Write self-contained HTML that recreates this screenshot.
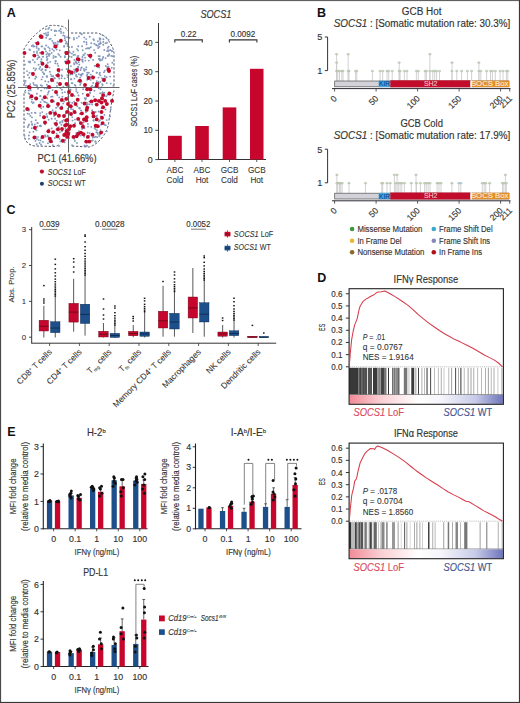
<!DOCTYPE html>
<html><head><meta charset="utf-8"><style>
html,body{margin:0;padding:0;background:#fff;}
svg{display:block;font-family:"Liberation Sans", sans-serif;}
</style></head><body>
<svg width="520" height="703" viewBox="0 0 520 703">
<defs><linearGradient id="grad" x1="0" x2="1" y1="0" y2="0">
<stop offset="0" stop-color="#f28a96"/><stop offset="0.2" stop-color="#f9cdd2"/><stop offset="0.45" stop-color="#ffffff"/><stop offset="0.6" stop-color="#f5f5fb"/><stop offset="0.82" stop-color="#c8cbe8"/><stop offset="1" stop-color="#6e76bb"/></linearGradient></defs>
<rect x="0" y="0" width="520" height="703" fill="#fff"/>
<text x="6.8" y="16.7" font-size="12.5" fill="#111" style="font-weight:bold;">A</text>
<path d="M24 86 L24 49 Q33 34 47 26 Q52 25 56 25.5 L61 26 Q66 27 68 31 M71 33 L97 33 Q106 35 110 43 Q113.5 48 114 53 L114 86 M26 90 Q24 91 24 94 L24 134 Q25 145 35 146 L55 146.5 Q58 146 60 143.5 M72 146 L89 147 Q97 145 104 135 Q108.5 128 109 120 L112 100 Q113.5 94 114 90" fill="none" stroke="#4c5468" stroke-width="1" stroke-dasharray="2.3,1.7"/>
<circle cx="53.5" cy="42.7" r="0.95" fill="#8696c0"/>
<circle cx="30.6" cy="90.4" r="0.95" fill="#7fa0b4"/>
<circle cx="63.5" cy="32.7" r="0.95" fill="#7fa0b4"/>
<circle cx="44.3" cy="101.8" r="0.95" fill="#8696c0"/>
<circle cx="102.1" cy="59.9" r="0.95" fill="#7fa0b4"/>
<circle cx="34.7" cy="62.3" r="0.95" fill="#8696c0"/>
<circle cx="40.4" cy="96.1" r="0.95" fill="#8696c0"/>
<circle cx="29.4" cy="49.5" r="0.95" fill="#8696c0"/>
<circle cx="52.6" cy="96.6" r="0.95" fill="#7fa0b4"/>
<circle cx="76.3" cy="89.1" r="0.95" fill="#8696c0"/>
<circle cx="84.8" cy="118.8" r="0.95" fill="#8696c0"/>
<circle cx="52.6" cy="110.2" r="0.95" fill="#8696c0"/>
<circle cx="65.5" cy="128.2" r="0.95" fill="#8696c0"/>
<circle cx="87.8" cy="104.2" r="0.95" fill="#8696c0"/>
<circle cx="49.9" cy="71.8" r="0.95" fill="#8696c0"/>
<circle cx="93.9" cy="40.0" r="0.95" fill="#7fa0b4"/>
<circle cx="64.9" cy="92.1" r="0.95" fill="#8696c0"/>
<circle cx="102.6" cy="58.5" r="0.95" fill="#8696c0"/>
<circle cx="56.6" cy="133.6" r="0.95" fill="#7fa0b4"/>
<circle cx="40.0" cy="52.8" r="0.95" fill="#7fa0b4"/>
<circle cx="68.1" cy="97.1" r="0.95" fill="#7fa0b4"/>
<circle cx="62.1" cy="69.8" r="0.95" fill="#8696c0"/>
<circle cx="110.7" cy="109.6" r="0.95" fill="#8696c0"/>
<circle cx="28.9" cy="135.5" r="0.95" fill="#8696c0"/>
<circle cx="96.6" cy="72.7" r="0.95" fill="#8696c0"/>
<circle cx="30.1" cy="49.9" r="0.95" fill="#7fa0b4"/>
<circle cx="54.9" cy="30.5" r="0.95" fill="#7fa0b4"/>
<circle cx="47.0" cy="67.1" r="0.95" fill="#8696c0"/>
<circle cx="35.2" cy="129.3" r="0.95" fill="#8696c0"/>
<circle cx="55.2" cy="56.8" r="0.95" fill="#8696c0"/>
<circle cx="72.1" cy="145.3" r="0.95" fill="#7fa0b4"/>
<circle cx="57.4" cy="44.7" r="0.95" fill="#8696c0"/>
<circle cx="72.5" cy="120.6" r="0.95" fill="#7fa0b4"/>
<circle cx="101.6" cy="124.0" r="0.95" fill="#8696c0"/>
<circle cx="44.6" cy="88.2" r="0.95" fill="#7fa0b4"/>
<circle cx="87.0" cy="142.6" r="0.95" fill="#8696c0"/>
<circle cx="44.6" cy="48.4" r="0.95" fill="#7fa0b4"/>
<circle cx="80.8" cy="135.6" r="0.95" fill="#8696c0"/>
<circle cx="84.1" cy="136.8" r="0.95" fill="#8696c0"/>
<circle cx="67.5" cy="46.1" r="0.95" fill="#8696c0"/>
<circle cx="54.3" cy="123.3" r="0.95" fill="#8696c0"/>
<circle cx="60.5" cy="141.4" r="0.95" fill="#7fa0b4"/>
<circle cx="35.6" cy="42.7" r="0.95" fill="#8696c0"/>
<circle cx="37.3" cy="126.5" r="0.95" fill="#8696c0"/>
<circle cx="83.1" cy="89.3" r="0.95" fill="#8696c0"/>
<circle cx="46.9" cy="60.3" r="0.95" fill="#7fa0b4"/>
<circle cx="77.4" cy="56.2" r="0.95" fill="#8696c0"/>
<circle cx="35.9" cy="136.8" r="0.95" fill="#8696c0"/>
<circle cx="77.1" cy="136.1" r="0.95" fill="#8696c0"/>
<circle cx="69.7" cy="89.9" r="0.95" fill="#7fa0b4"/>
<circle cx="64.1" cy="46.7" r="0.95" fill="#7fa0b4"/>
<circle cx="96.7" cy="45.4" r="0.95" fill="#8696c0"/>
<circle cx="90.0" cy="93.0" r="0.95" fill="#8696c0"/>
<circle cx="75.0" cy="54.8" r="0.95" fill="#7fa0b4"/>
<circle cx="94.3" cy="87.0" r="0.95" fill="#8696c0"/>
<circle cx="93.2" cy="137.1" r="0.95" fill="#8696c0"/>
<circle cx="70.0" cy="87.5" r="0.95" fill="#8696c0"/>
<circle cx="72.5" cy="83.3" r="0.95" fill="#8696c0"/>
<circle cx="87.6" cy="132.7" r="0.95" fill="#7fa0b4"/>
<circle cx="74.9" cy="141.0" r="0.95" fill="#7fa0b4"/>
<circle cx="35.1" cy="78.8" r="0.95" fill="#7fa0b4"/>
<circle cx="45.9" cy="33.1" r="0.95" fill="#8696c0"/>
<circle cx="105.6" cy="43.2" r="0.95" fill="#8696c0"/>
<circle cx="84.1" cy="41.7" r="0.95" fill="#8696c0"/>
<circle cx="112.0" cy="51.2" r="0.95" fill="#8696c0"/>
<circle cx="99.8" cy="44.0" r="0.95" fill="#8696c0"/>
<circle cx="70.9" cy="66.1" r="0.95" fill="#7fa0b4"/>
<circle cx="74.4" cy="78.6" r="0.95" fill="#7fa0b4"/>
<circle cx="54.2" cy="101.4" r="0.95" fill="#7fa0b4"/>
<circle cx="48.2" cy="28.9" r="0.95" fill="#7fa0b4"/>
<circle cx="35.8" cy="76.4" r="0.95" fill="#8696c0"/>
<circle cx="98.5" cy="56.1" r="0.95" fill="#7fa0b4"/>
<circle cx="107.6" cy="94.8" r="0.95" fill="#7fa0b4"/>
<circle cx="29.2" cy="109.3" r="0.95" fill="#7fa0b4"/>
<circle cx="102.5" cy="80.3" r="0.95" fill="#8696c0"/>
<circle cx="74.3" cy="138.9" r="0.95" fill="#7fa0b4"/>
<circle cx="71.9" cy="53.6" r="0.95" fill="#7fa0b4"/>
<circle cx="42.4" cy="62.7" r="0.95" fill="#8696c0"/>
<circle cx="93.1" cy="60.0" r="0.95" fill="#8696c0"/>
<circle cx="40.2" cy="67.0" r="0.95" fill="#7fa0b4"/>
<circle cx="98.5" cy="77.6" r="0.95" fill="#8696c0"/>
<circle cx="99.9" cy="72.7" r="0.95" fill="#8696c0"/>
<circle cx="86.6" cy="145.8" r="0.95" fill="#8696c0"/>
<circle cx="81.9" cy="74.2" r="0.95" fill="#8696c0"/>
<circle cx="30.4" cy="115.9" r="0.95" fill="#7fa0b4"/>
<circle cx="31.7" cy="128.3" r="0.95" fill="#8696c0"/>
<circle cx="49.7" cy="54.0" r="0.95" fill="#7fa0b4"/>
<circle cx="65.8" cy="43.5" r="0.95" fill="#8696c0"/>
<circle cx="48.0" cy="143.3" r="0.95" fill="#7fa0b4"/>
<circle cx="67.2" cy="86.3" r="0.95" fill="#7fa0b4"/>
<circle cx="48.0" cy="35.1" r="0.95" fill="#8696c0"/>
<circle cx="51.7" cy="52.9" r="0.95" fill="#8696c0"/>
<circle cx="72.2" cy="117.1" r="0.95" fill="#8696c0"/>
<circle cx="104.0" cy="72.3" r="0.95" fill="#8696c0"/>
<circle cx="100.0" cy="134.6" r="0.95" fill="#8696c0"/>
<circle cx="97.9" cy="41.3" r="0.95" fill="#8696c0"/>
<circle cx="69.9" cy="127.5" r="0.95" fill="#8696c0"/>
<circle cx="77.1" cy="134.7" r="0.95" fill="#8696c0"/>
<circle cx="36.1" cy="68.7" r="0.95" fill="#7fa0b4"/>
<circle cx="100.1" cy="93.3" r="0.95" fill="#8696c0"/>
<circle cx="85.9" cy="84.7" r="0.95" fill="#7fa0b4"/>
<circle cx="96.6" cy="116.8" r="0.95" fill="#8696c0"/>
<circle cx="91.0" cy="55.3" r="0.95" fill="#7fa0b4"/>
<circle cx="67.6" cy="108.8" r="0.95" fill="#8696c0"/>
<circle cx="47.1" cy="116.2" r="0.95" fill="#8696c0"/>
<circle cx="48.5" cy="107.3" r="0.95" fill="#8696c0"/>
<circle cx="50.5" cy="88.1" r="0.95" fill="#8696c0"/>
<circle cx="25.6" cy="80.9" r="0.95" fill="#8696c0"/>
<circle cx="64.9" cy="57.3" r="0.95" fill="#7fa0b4"/>
<circle cx="110.0" cy="50.1" r="0.95" fill="#7fa0b4"/>
<circle cx="98.6" cy="87.1" r="0.95" fill="#8696c0"/>
<circle cx="45.1" cy="135.3" r="0.95" fill="#7fa0b4"/>
<circle cx="65.0" cy="61.4" r="0.95" fill="#7fa0b4"/>
<circle cx="55.3" cy="63.2" r="0.95" fill="#8696c0"/>
<circle cx="100.4" cy="38.9" r="0.95" fill="#8696c0"/>
<circle cx="88.9" cy="135.8" r="0.95" fill="#8696c0"/>
<circle cx="77.6" cy="68.7" r="0.95" fill="#8696c0"/>
<circle cx="100.0" cy="59.4" r="0.95" fill="#8696c0"/>
<circle cx="46.7" cy="57.0" r="0.95" fill="#8696c0"/>
<circle cx="41.3" cy="70.3" r="0.95" fill="#8696c0"/>
<circle cx="104.5" cy="124.7" r="0.95" fill="#8696c0"/>
<circle cx="90.6" cy="79.9" r="0.95" fill="#8696c0"/>
<circle cx="82.6" cy="59.5" r="0.95" fill="#7fa0b4"/>
<circle cx="55.3" cy="60.9" r="0.95" fill="#8696c0"/>
<circle cx="112.8" cy="56.3" r="0.95" fill="#8696c0"/>
<circle cx="74.7" cy="72.9" r="0.95" fill="#7fa0b4"/>
<circle cx="38.7" cy="49.8" r="0.95" fill="#8696c0"/>
<circle cx="69.2" cy="51.3" r="0.95" fill="#8696c0"/>
<circle cx="36.7" cy="47.9" r="0.95" fill="#7fa0b4"/>
<circle cx="55.1" cy="35.3" r="0.95" fill="#7fa0b4"/>
<circle cx="47.5" cy="94.6" r="0.95" fill="#8696c0"/>
<circle cx="61.6" cy="75.3" r="0.95" fill="#8696c0"/>
<circle cx="58.3" cy="65.9" r="0.95" fill="#7fa0b4"/>
<circle cx="69.8" cy="102.1" r="0.95" fill="#7fa0b4"/>
<circle cx="48.7" cy="54.8" r="0.95" fill="#8696c0"/>
<circle cx="64.6" cy="142.3" r="0.95" fill="#7fa0b4"/>
<circle cx="59.6" cy="138.9" r="0.95" fill="#8696c0"/>
<circle cx="38.0" cy="88.8" r="0.95" fill="#8696c0"/>
<circle cx="89.7" cy="104.3" r="0.95" fill="#8696c0"/>
<circle cx="95.2" cy="52.8" r="0.95" fill="#8696c0"/>
<circle cx="82.7" cy="61.7" r="0.95" fill="#7fa0b4"/>
<circle cx="46.9" cy="102.9" r="0.95" fill="#7fa0b4"/>
<circle cx="30.4" cy="89.0" r="0.95" fill="#8696c0"/>
<circle cx="51.4" cy="81.1" r="0.95" fill="#8696c0"/>
<circle cx="82.7" cy="133.6" r="0.95" fill="#7fa0b4"/>
<circle cx="26.0" cy="85.8" r="0.95" fill="#8696c0"/>
<circle cx="47.4" cy="106.8" r="0.95" fill="#7fa0b4"/>
<circle cx="86.1" cy="48.6" r="0.95" fill="#8696c0"/>
<circle cx="91.3" cy="86.6" r="0.95" fill="#7fa0b4"/>
<circle cx="112.3" cy="62.7" r="0.95" fill="#7fa0b4"/>
<circle cx="44.2" cy="118.3" r="0.95" fill="#8696c0"/>
<circle cx="69.1" cy="47.2" r="0.95" fill="#7fa0b4"/>
<circle cx="61.9" cy="106.5" r="0.95" fill="#7fa0b4"/>
<circle cx="59.8" cy="50.4" r="0.95" fill="#8696c0"/>
<circle cx="29.5" cy="72.8" r="0.95" fill="#8696c0"/>
<circle cx="104.4" cy="114.9" r="0.95" fill="#8696c0"/>
<circle cx="54.0" cy="47.0" r="0.95" fill="#8696c0"/>
<circle cx="84.5" cy="70.9" r="0.95" fill="#8696c0"/>
<circle cx="54.2" cy="45.0" r="0.95" fill="#7fa0b4"/>
<circle cx="49.5" cy="67.6" r="0.95" fill="#8696c0"/>
<circle cx="56.5" cy="125.9" r="0.95" fill="#8696c0"/>
<circle cx="107.7" cy="47.9" r="0.95" fill="#8696c0"/>
<circle cx="61.4" cy="124.7" r="0.95" fill="#7fa0b4"/>
<circle cx="107.7" cy="55.9" r="0.95" fill="#8696c0"/>
<circle cx="105.8" cy="66.0" r="0.95" fill="#7fa0b4"/>
<circle cx="111.1" cy="100.5" r="0.95" fill="#8696c0"/>
<circle cx="92.8" cy="137.6" r="0.95" fill="#8696c0"/>
<circle cx="59.2" cy="55.1" r="0.95" fill="#8696c0"/>
<circle cx="97.0" cy="115.6" r="0.95" fill="#8696c0"/>
<circle cx="79.3" cy="64.6" r="0.95" fill="#8696c0"/>
<circle cx="74.3" cy="64.4" r="0.95" fill="#8696c0"/>
<circle cx="48.1" cy="34.4" r="0.95" fill="#7fa0b4"/>
<circle cx="69.4" cy="112.0" r="0.95" fill="#7fa0b4"/>
<circle cx="61.9" cy="100.9" r="0.95" fill="#8696c0"/>
<circle cx="100.5" cy="60.4" r="0.95" fill="#8696c0"/>
<circle cx="46.5" cy="54.4" r="0.95" fill="#7fa0b4"/>
<circle cx="104.5" cy="95.7" r="0.95" fill="#8696c0"/>
<circle cx="45.1" cy="124.2" r="0.95" fill="#8696c0"/>
<circle cx="33.3" cy="82.9" r="0.95" fill="#8696c0"/>
<circle cx="50.7" cy="38.8" r="0.95" fill="#7fa0b4"/>
<circle cx="108.6" cy="70.2" r="0.95" fill="#8696c0"/>
<circle cx="64.9" cy="56.2" r="0.95" fill="#8696c0"/>
<circle cx="57.6" cy="41.5" r="0.95" fill="#7fa0b4"/>
<circle cx="47.2" cy="98.3" r="0.95" fill="#7fa0b4"/>
<circle cx="25.0" cy="64.6" r="0.95" fill="#7fa0b4"/>
<circle cx="52.4" cy="49.2" r="0.95" fill="#8696c0"/>
<circle cx="33.2" cy="73.0" r="0.95" fill="#8696c0"/>
<circle cx="87.3" cy="74.8" r="0.95" fill="#7fa0b4"/>
<circle cx="52.0" cy="142.2" r="0.95" fill="#8696c0"/>
<circle cx="61.9" cy="131.2" r="0.95" fill="#8696c0"/>
<circle cx="24.5" cy="135.8" r="0.95" fill="#8696c0"/>
<circle cx="104.3" cy="81.2" r="0.95" fill="#7fa0b4"/>
<circle cx="25.3" cy="92.4" r="0.95" fill="#7fa0b4"/>
<circle cx="80.6" cy="70.0" r="0.95" fill="#8696c0"/>
<circle cx="37.3" cy="59.1" r="0.95" fill="#8696c0"/>
<circle cx="68.6" cy="123.8" r="0.95" fill="#7fa0b4"/>
<circle cx="35.5" cy="140.9" r="0.95" fill="#8696c0"/>
<circle cx="28.9" cy="138.8" r="0.95" fill="#8696c0"/>
<circle cx="99.0" cy="43.9" r="0.95" fill="#8696c0"/>
<circle cx="44.2" cy="74.2" r="0.95" fill="#8696c0"/>
<circle cx="99.5" cy="46.7" r="0.95" fill="#7fa0b4"/>
<circle cx="60.4" cy="88.2" r="0.95" fill="#7fa0b4"/>
<circle cx="46.5" cy="113.9" r="0.95" fill="#7fa0b4"/>
<circle cx="100.3" cy="38.6" r="0.95" fill="#8696c0"/>
<circle cx="74.1" cy="101.8" r="0.95" fill="#8696c0"/>
<circle cx="77.0" cy="76.8" r="0.95" fill="#8696c0"/>
<circle cx="64.7" cy="78.4" r="0.95" fill="#7fa0b4"/>
<circle cx="80.3" cy="84.7" r="0.95" fill="#7fa0b4"/>
<circle cx="93.5" cy="120.7" r="0.95" fill="#7fa0b4"/>
<circle cx="67.1" cy="37.3" r="0.95" fill="#7fa0b4"/>
<circle cx="63.2" cy="35.4" r="0.95" fill="#8696c0"/>
<circle cx="81.9" cy="34.2" r="0.95" fill="#8696c0"/>
<circle cx="69.9" cy="70.9" r="0.95" fill="#8696c0"/>
<circle cx="36.4" cy="130.3" r="0.95" fill="#8696c0"/>
<circle cx="98.2" cy="48.0" r="0.95" fill="#8696c0"/>
<circle cx="105.6" cy="58.1" r="0.95" fill="#8696c0"/>
<circle cx="37.1" cy="86.3" r="0.95" fill="#8696c0"/>
<circle cx="43.0" cy="56.6" r="0.95" fill="#8696c0"/>
<circle cx="38.7" cy="140.1" r="0.95" fill="#8696c0"/>
<circle cx="72.3" cy="102.9" r="0.95" fill="#8696c0"/>
<circle cx="74.5" cy="95.9" r="0.95" fill="#7fa0b4"/>
<circle cx="59.9" cy="122.9" r="0.95" fill="#8696c0"/>
<circle cx="76.5" cy="68.7" r="0.95" fill="#8696c0"/>
<circle cx="64.2" cy="45.9" r="0.95" fill="#8696c0"/>
<circle cx="28.4" cy="125.7" r="0.95" fill="#8696c0"/>
<circle cx="77.3" cy="106.3" r="0.95" fill="#7fa0b4"/>
<circle cx="80.1" cy="77.6" r="0.95" fill="#8696c0"/>
<circle cx="33.7" cy="68.3" r="0.95" fill="#7fa0b4"/>
<circle cx="80.8" cy="82.9" r="0.95" fill="#7fa0b4"/>
<circle cx="109.2" cy="54.2" r="0.95" fill="#7fa0b4"/>
<circle cx="32.7" cy="103.1" r="0.95" fill="#8696c0"/>
<circle cx="60.6" cy="56.8" r="0.95" fill="#7fa0b4"/>
<circle cx="82.7" cy="93.7" r="0.95" fill="#8696c0"/>
<circle cx="64.4" cy="140.2" r="0.95" fill="#7fa0b4"/>
<circle cx="72.4" cy="74.3" r="0.95" fill="#7fa0b4"/>
<circle cx="42.2" cy="99.4" r="0.95" fill="#8696c0"/>
<circle cx="98.0" cy="45.7" r="0.95" fill="#8696c0"/>
<circle cx="51.3" cy="30.0" r="0.95" fill="#8696c0"/>
<circle cx="100.8" cy="116.4" r="0.95" fill="#8696c0"/>
<circle cx="65.2" cy="52.0" r="0.95" fill="#7fa0b4"/>
<circle cx="92.2" cy="110.2" r="0.95" fill="#8696c0"/>
<circle cx="48.2" cy="92.7" r="0.95" fill="#8696c0"/>
<circle cx="71.6" cy="56.9" r="0.95" fill="#8696c0"/>
<circle cx="111.8" cy="50.9" r="0.95" fill="#7fa0b4"/>
<circle cx="47.7" cy="53.3" r="0.95" fill="#8696c0"/>
<circle cx="110.0" cy="116.5" r="0.95" fill="#8696c0"/>
<circle cx="45.8" cy="136.5" r="0.95" fill="#8696c0"/>
<circle cx="84.5" cy="145.4" r="0.95" fill="#8696c0"/>
<circle cx="102.0" cy="78.2" r="0.95" fill="#8696c0"/>
<circle cx="75.9" cy="62.2" r="0.95" fill="#7fa0b4"/>
<circle cx="80.7" cy="33.6" r="0.95" fill="#7fa0b4"/>
<circle cx="108.5" cy="66.8" r="0.95" fill="#7fa0b4"/>
<circle cx="87.0" cy="102.6" r="0.95" fill="#8696c0"/>
<circle cx="30.0" cy="97.2" r="0.95" fill="#8696c0"/>
<circle cx="42.7" cy="37.9" r="0.95" fill="#7fa0b4"/>
<circle cx="101.1" cy="124.7" r="0.95" fill="#8696c0"/>
<circle cx="81.5" cy="59.6" r="0.95" fill="#7fa0b4"/>
<circle cx="53.0" cy="76.5" r="0.95" fill="#7fa0b4"/>
<circle cx="47.4" cy="59.0" r="0.95" fill="#8696c0"/>
<circle cx="57.5" cy="63.8" r="0.95" fill="#8696c0"/>
<circle cx="69.8" cy="129.6" r="0.95" fill="#7fa0b4"/>
<circle cx="61.6" cy="78.1" r="0.95" fill="#8696c0"/>
<circle cx="55.6" cy="111.4" r="0.95" fill="#7fa0b4"/>
<circle cx="102.5" cy="35.3" r="0.95" fill="#7fa0b4"/>
<circle cx="68.7" cy="84.9" r="0.95" fill="#8696c0"/>
<circle cx="40.8" cy="85.3" r="0.95" fill="#8696c0"/>
<circle cx="99.7" cy="56.3" r="0.95" fill="#8696c0"/>
<circle cx="49.8" cy="50.6" r="0.95" fill="#8696c0"/>
<circle cx="69.3" cy="37.6" r="0.95" fill="#8696c0"/>
<circle cx="31.4" cy="121.7" r="0.95" fill="#8696c0"/>
<circle cx="81.1" cy="68.1" r="0.95" fill="#8696c0"/>
<circle cx="42.8" cy="56.6" r="0.95" fill="#8696c0"/>
<circle cx="69.6" cy="71.0" r="0.95" fill="#8696c0"/>
<circle cx="45.3" cy="81.2" r="0.95" fill="#8696c0"/>
<circle cx="92.7" cy="117.4" r="0.95" fill="#8696c0"/>
<circle cx="53.7" cy="43.3" r="0.95" fill="#8696c0"/>
<circle cx="63.9" cy="119.9" r="0.95" fill="#7fa0b4"/>
<circle cx="41.4" cy="61.4" r="0.95" fill="#8696c0"/>
<circle cx="100.8" cy="43.2" r="0.95" fill="#7fa0b4"/>
<circle cx="46.5" cy="64.5" r="0.95" fill="#8696c0"/>
<circle cx="38.6" cy="64.7" r="0.95" fill="#7fa0b4"/>
<circle cx="59.0" cy="146.0" r="0.95" fill="#8696c0"/>
<circle cx="42.8" cy="72.2" r="0.95" fill="#7fa0b4"/>
<circle cx="60.3" cy="122.1" r="0.95" fill="#8696c0"/>
<circle cx="81.5" cy="81.4" r="0.95" fill="#7fa0b4"/>
<circle cx="78.9" cy="74.2" r="0.95" fill="#8696c0"/>
<circle cx="106.6" cy="77.3" r="0.95" fill="#8696c0"/>
<circle cx="92.2" cy="76.2" r="0.95" fill="#7fa0b4"/>
<circle cx="89.7" cy="133.1" r="0.95" fill="#8696c0"/>
<circle cx="101.6" cy="108.3" r="0.95" fill="#8696c0"/>
<circle cx="62.2" cy="121.0" r="0.95" fill="#8696c0"/>
<circle cx="46.8" cy="76.5" r="0.95" fill="#8696c0"/>
<circle cx="80.6" cy="74.8" r="0.95" fill="#8696c0"/>
<circle cx="108.6" cy="46.7" r="0.95" fill="#8696c0"/>
<circle cx="59.4" cy="84.7" r="0.95" fill="#8696c0"/>
<circle cx="76.3" cy="91.1" r="0.95" fill="#8696c0"/>
<circle cx="82.2" cy="126.8" r="0.95" fill="#8696c0"/>
<circle cx="110.3" cy="50.1" r="0.95" fill="#8696c0"/>
<circle cx="93.4" cy="39.2" r="0.95" fill="#8696c0"/>
<circle cx="56.3" cy="31.0" r="0.95" fill="#7fa0b4"/>
<circle cx="62.1" cy="76.1" r="0.95" fill="#8696c0"/>
<circle cx="56.0" cy="56.9" r="0.95" fill="#7fa0b4"/>
<circle cx="91.5" cy="140.6" r="0.95" fill="#7fa0b4"/>
<circle cx="96.9" cy="72.6" r="0.95" fill="#7fa0b4"/>
<circle cx="35.8" cy="120.3" r="0.95" fill="#8696c0"/>
<circle cx="111.7" cy="67.8" r="0.95" fill="#8696c0"/>
<circle cx="98.3" cy="82.0" r="0.95" fill="#7fa0b4"/>
<circle cx="73.9" cy="39.5" r="0.95" fill="#8696c0"/>
<circle cx="56.3" cy="129.5" r="0.95" fill="#8696c0"/>
<circle cx="47.1" cy="76.8" r="0.95" fill="#7fa0b4"/>
<circle cx="49.6" cy="54.4" r="0.95" fill="#8696c0"/>
<circle cx="67.6" cy="77.1" r="0.95" fill="#8696c0"/>
<circle cx="84.0" cy="68.9" r="0.95" fill="#8696c0"/>
<circle cx="99.3" cy="136.3" r="0.95" fill="#7fa0b4"/>
<circle cx="83.7" cy="55.0" r="0.95" fill="#7fa0b4"/>
<circle cx="37.0" cy="53.0" r="0.95" fill="#8696c0"/>
<circle cx="55.5" cy="42.9" r="0.95" fill="#8696c0"/>
<circle cx="96.0" cy="44.8" r="0.95" fill="#8696c0"/>
<circle cx="79.4" cy="120.9" r="0.95" fill="#8696c0"/>
<circle cx="87.0" cy="89.8" r="0.95" fill="#8696c0"/>
<circle cx="104.3" cy="92.8" r="0.95" fill="#7fa0b4"/>
<circle cx="36.7" cy="85.1" r="0.95" fill="#7fa0b4"/>
<circle cx="66.5" cy="41.9" r="0.95" fill="#8696c0"/>
<circle cx="69.3" cy="90.9" r="0.95" fill="#7fa0b4"/>
<circle cx="100.5" cy="82.0" r="0.95" fill="#8696c0"/>
<circle cx="84.5" cy="128.2" r="0.95" fill="#8696c0"/>
<circle cx="79.5" cy="108.6" r="0.95" fill="#8696c0"/>
<circle cx="89.4" cy="101.5" r="0.95" fill="#8696c0"/>
<circle cx="57.3" cy="82.8" r="0.95" fill="#8696c0"/>
<circle cx="94.1" cy="50.1" r="0.95" fill="#8696c0"/>
<circle cx="62.4" cy="92.7" r="0.95" fill="#7fa0b4"/>
<circle cx="99.3" cy="74.1" r="0.95" fill="#8696c0"/>
<circle cx="48.7" cy="86.8" r="0.95" fill="#8696c0"/>
<circle cx="83.6" cy="122.2" r="0.95" fill="#8696c0"/>
<circle cx="51.2" cy="96.7" r="0.95" fill="#8696c0"/>
<circle cx="27.6" cy="113.6" r="0.95" fill="#7fa0b4"/>
<circle cx="41.3" cy="138.3" r="0.95" fill="#8696c0"/>
<circle cx="95.8" cy="136.8" r="0.95" fill="#8696c0"/>
<circle cx="81.0" cy="110.4" r="0.95" fill="#8696c0"/>
<circle cx="43.3" cy="106.7" r="0.95" fill="#8696c0"/>
<circle cx="33.2" cy="46.5" r="0.95" fill="#7fa0b4"/>
<circle cx="94.5" cy="137.3" r="0.95" fill="#8696c0"/>
<circle cx="98.9" cy="121.5" r="0.95" fill="#7fa0b4"/>
<circle cx="51.5" cy="76.3" r="0.95" fill="#8696c0"/>
<circle cx="63.2" cy="103.6" r="0.95" fill="#7fa0b4"/>
<circle cx="34.8" cy="124.5" r="0.95" fill="#8696c0"/>
<circle cx="59.2" cy="97.4" r="0.95" fill="#8696c0"/>
<circle cx="67.3" cy="75.1" r="0.95" fill="#7fa0b4"/>
<circle cx="82.7" cy="50.3" r="0.95" fill="#7fa0b4"/>
<circle cx="86.2" cy="39.1" r="0.95" fill="#8696c0"/>
<circle cx="90.8" cy="47.2" r="0.95" fill="#7fa0b4"/>
<circle cx="94.4" cy="112.5" r="0.95" fill="#8696c0"/>
<circle cx="31.7" cy="101.9" r="0.95" fill="#8696c0"/>
<circle cx="108.8" cy="55.5" r="0.95" fill="#8696c0"/>
<circle cx="102.3" cy="84.3" r="0.95" fill="#7fa0b4"/>
<circle cx="57.4" cy="95.3" r="0.95" fill="#8696c0"/>
<circle cx="37.2" cy="122.9" r="0.95" fill="#8696c0"/>
<circle cx="81.3" cy="75.8" r="0.95" fill="#8696c0"/>
<circle cx="95.5" cy="141.2" r="0.95" fill="#7fa0b4"/>
<circle cx="88.0" cy="126.6" r="0.95" fill="#8696c0"/>
<circle cx="78.7" cy="62.3" r="0.95" fill="#8696c0"/>
<circle cx="104.8" cy="70.7" r="0.95" fill="#8696c0"/>
<circle cx="78.8" cy="135.1" r="0.95" fill="#7fa0b4"/>
<circle cx="62.4" cy="96.7" r="0.95" fill="#8696c0"/>
<circle cx="27.8" cy="127.3" r="0.95" fill="#8696c0"/>
<circle cx="48.9" cy="129.5" r="0.95" fill="#8696c0"/>
<circle cx="107.2" cy="67.0" r="0.95" fill="#7fa0b4"/>
<circle cx="79.2" cy="108.0" r="0.95" fill="#7fa0b4"/>
<circle cx="47.2" cy="117.1" r="0.95" fill="#8696c0"/>
<circle cx="32.0" cy="124.0" r="0.95" fill="#7fa0b4"/>
<circle cx="76.7" cy="135.2" r="0.95" fill="#8696c0"/>
<circle cx="41.5" cy="46.4" r="0.95" fill="#8696c0"/>
<circle cx="57.0" cy="94.0" r="0.95" fill="#8696c0"/>
<circle cx="33.7" cy="102.5" r="0.95" fill="#7fa0b4"/>
<circle cx="78.3" cy="66.8" r="0.95" fill="#8696c0"/>
<circle cx="68.3" cy="94.3" r="0.95" fill="#8696c0"/>
<circle cx="62.8" cy="141.4" r="0.95" fill="#8696c0"/>
<circle cx="42.3" cy="46.4" r="0.95" fill="#7fa0b4"/>
<circle cx="28.6" cy="93.1" r="0.95" fill="#8696c0"/>
<circle cx="29.8" cy="98.2" r="0.95" fill="#7fa0b4"/>
<circle cx="111.3" cy="55.9" r="0.95" fill="#8696c0"/>
<circle cx="95.6" cy="112.0" r="0.95" fill="#8696c0"/>
<circle cx="92.7" cy="140.5" r="0.95" fill="#7fa0b4"/>
<circle cx="53.5" cy="55.9" r="0.95" fill="#7fa0b4"/>
<circle cx="67.8" cy="44.9" r="0.95" fill="#7fa0b4"/>
<circle cx="89.3" cy="48.2" r="0.95" fill="#7fa0b4"/>
<circle cx="108.4" cy="51.3" r="0.95" fill="#8696c0"/>
<circle cx="64.7" cy="36.0" r="0.95" fill="#8696c0"/>
<circle cx="100.6" cy="101.9" r="0.95" fill="#8696c0"/>
<circle cx="98.9" cy="83.2" r="0.95" fill="#8696c0"/>
<circle cx="37.0" cy="51.5" r="0.95" fill="#7fa0b4"/>
<circle cx="103.2" cy="57.0" r="0.95" fill="#8696c0"/>
<circle cx="38.2" cy="57.6" r="0.95" fill="#8696c0"/>
<circle cx="54.4" cy="44.8" r="0.95" fill="#8696c0"/>
<circle cx="67.4" cy="59.5" r="0.95" fill="#7fa0b4"/>
<circle cx="42.3" cy="69.2" r="0.95" fill="#8696c0"/>
<circle cx="32.9" cy="59.9" r="0.95" fill="#8696c0"/>
<circle cx="29.2" cy="114.1" r="0.95" fill="#8696c0"/>
<circle cx="71.9" cy="47.0" r="0.95" fill="#8696c0"/>
<circle cx="107.0" cy="51.1" r="0.95" fill="#8696c0"/>
<circle cx="36.6" cy="46.3" r="0.95" fill="#8696c0"/>
<circle cx="88.8" cy="48.4" r="0.95" fill="#7fa0b4"/>
<circle cx="32.0" cy="99.5" r="0.95" fill="#7fa0b4"/>
<circle cx="42.7" cy="99.9" r="0.95" fill="#8696c0"/>
<circle cx="77.0" cy="49.1" r="0.95" fill="#7fa0b4"/>
<circle cx="90.7" cy="74.6" r="0.95" fill="#8696c0"/>
<circle cx="29.0" cy="124.5" r="0.95" fill="#8696c0"/>
<circle cx="102.7" cy="85.1" r="0.95" fill="#7fa0b4"/>
<circle cx="106.8" cy="83.1" r="0.95" fill="#8696c0"/>
<circle cx="48.2" cy="47.1" r="0.95" fill="#8696c0"/>
<circle cx="57.4" cy="44.3" r="0.95" fill="#8696c0"/>
<circle cx="71.3" cy="79.3" r="0.95" fill="#8696c0"/>
<circle cx="35.0" cy="112.6" r="0.95" fill="#8696c0"/>
<circle cx="53.2" cy="112.2" r="0.95" fill="#8696c0"/>
<circle cx="29.6" cy="132.2" r="0.95" fill="#8696c0"/>
<circle cx="70.7" cy="89.8" r="0.95" fill="#7fa0b4"/>
<circle cx="33.3" cy="55.1" r="0.95" fill="#8696c0"/>
<circle cx="87.6" cy="48.2" r="0.95" fill="#7fa0b4"/>
<circle cx="78.5" cy="95.5" r="0.95" fill="#8696c0"/>
<circle cx="33.4" cy="131.8" r="0.95" fill="#7fa0b4"/>
<circle cx="35.2" cy="85.2" r="0.95" fill="#8696c0"/>
<circle cx="49.4" cy="39.1" r="0.95" fill="#8696c0"/>
<circle cx="36.5" cy="97.4" r="0.95" fill="#7fa0b4"/>
<circle cx="100.4" cy="89.2" r="0.95" fill="#8696c0"/>
<circle cx="94.7" cy="66.0" r="0.95" fill="#7fa0b4"/>
<circle cx="54.5" cy="78.0" r="0.95" fill="#8696c0"/>
<circle cx="97.2" cy="137.2" r="0.95" fill="#8696c0"/>
<circle cx="28.9" cy="88.2" r="0.95" fill="#8696c0"/>
<circle cx="46.7" cy="76.3" r="0.95" fill="#8696c0"/>
<circle cx="63.4" cy="86.6" r="0.95" fill="#7fa0b4"/>
<circle cx="36.7" cy="144.2" r="0.95" fill="#8696c0"/>
<circle cx="97.6" cy="133.7" r="0.95" fill="#7fa0b4"/>
<circle cx="82.4" cy="57.0" r="0.95" fill="#8696c0"/>
<circle cx="48.9" cy="91.2" r="0.95" fill="#8696c0"/>
<circle cx="46.8" cy="88.5" r="0.95" fill="#8696c0"/>
<circle cx="50.2" cy="61.9" r="0.95" fill="#8696c0"/>
<circle cx="35.0" cy="97.7" r="0.95" fill="#8696c0"/>
<circle cx="48.4" cy="81.8" r="0.95" fill="#8696c0"/>
<circle cx="50.7" cy="74.4" r="0.95" fill="#7fa0b4"/>
<circle cx="46.1" cy="34.9" r="0.95" fill="#8696c0"/>
<circle cx="100.4" cy="99.6" r="0.95" fill="#8696c0"/>
<circle cx="42.3" cy="112.1" r="0.95" fill="#8696c0"/>
<circle cx="79.8" cy="82.2" r="0.95" fill="#8696c0"/>
<circle cx="46.0" cy="51.5" r="0.95" fill="#8696c0"/>
<circle cx="74.7" cy="84.9" r="0.95" fill="#7fa0b4"/>
<circle cx="94.3" cy="43.7" r="0.95" fill="#7fa0b4"/>
<circle cx="103.3" cy="78.6" r="0.95" fill="#7fa0b4"/>
<circle cx="59.3" cy="78.5" r="0.95" fill="#8696c0"/>
<circle cx="33.9" cy="51.9" r="0.95" fill="#8696c0"/>
<circle cx="91.2" cy="43.2" r="0.95" fill="#8696c0"/>
<circle cx="56.1" cy="107.7" r="0.95" fill="#8696c0"/>
<circle cx="98.7" cy="88.2" r="0.95" fill="#8696c0"/>
<circle cx="93.1" cy="82.9" r="0.95" fill="#8696c0"/>
<circle cx="93.7" cy="96.6" r="0.95" fill="#8696c0"/>
<circle cx="76.0" cy="75.8" r="0.95" fill="#8696c0"/>
<circle cx="103.4" cy="99.3" r="0.95" fill="#8696c0"/>
<circle cx="65.7" cy="113.7" r="0.95" fill="#8696c0"/>
<circle cx="74.5" cy="71.7" r="0.95" fill="#8696c0"/>
<circle cx="95.6" cy="129.3" r="0.95" fill="#8696c0"/>
<circle cx="40.8" cy="61.7" r="0.95" fill="#7fa0b4"/>
<circle cx="107.7" cy="64.2" r="0.95" fill="#8696c0"/>
<circle cx="42.6" cy="76.9" r="0.95" fill="#8696c0"/>
<circle cx="75.4" cy="85.7" r="0.95" fill="#8696c0"/>
<circle cx="94.4" cy="90.8" r="0.95" fill="#8696c0"/>
<circle cx="71.1" cy="109.0" r="0.95" fill="#8696c0"/>
<circle cx="78.1" cy="67.5" r="0.95" fill="#8696c0"/>
<circle cx="58.1" cy="73.7" r="0.95" fill="#8696c0"/>
<circle cx="76.2" cy="133.1" r="0.95" fill="#8696c0"/>
<circle cx="64.1" cy="101.5" r="0.95" fill="#8696c0"/>
<circle cx="52.9" cy="145.3" r="0.95" fill="#7fa0b4"/>
<circle cx="105.4" cy="109.5" r="0.95" fill="#8696c0"/>
<circle cx="104.8" cy="76.2" r="0.95" fill="#7fa0b4"/>
<circle cx="50.4" cy="87.4" r="0.95" fill="#7fa0b4"/>
<circle cx="40.6" cy="102.1" r="0.95" fill="#8696c0"/>
<circle cx="27.9" cy="75.0" r="0.95" fill="#8696c0"/>
<circle cx="51.7" cy="128.4" r="0.95" fill="#8696c0"/>
<circle cx="41.9" cy="85.7" r="0.95" fill="#8696c0"/>
<circle cx="48.2" cy="104.2" r="0.95" fill="#8696c0"/>
<circle cx="76.3" cy="75.0" r="0.95" fill="#7fa0b4"/>
<circle cx="33.1" cy="45.1" r="0.95" fill="#8696c0"/>
<circle cx="25.1" cy="119.6" r="0.95" fill="#8696c0"/>
<circle cx="39.4" cy="57.1" r="0.95" fill="#7fa0b4"/>
<circle cx="106.3" cy="96.2" r="0.95" fill="#8696c0"/>
<circle cx="59.1" cy="30.8" r="0.95" fill="#8696c0"/>
<circle cx="77.0" cy="143.0" r="0.95" fill="#7fa0b4"/>
<circle cx="105.8" cy="125.2" r="0.95" fill="#8696c0"/>
<circle cx="52.1" cy="132.5" r="0.95" fill="#8696c0"/>
<circle cx="46.1" cy="45.5" r="0.95" fill="#8696c0"/>
<circle cx="41.0" cy="144.5" r="0.95" fill="#7fa0b4"/>
<circle cx="72.6" cy="71.8" r="0.95" fill="#8696c0"/>
<circle cx="99.2" cy="67.6" r="0.95" fill="#7fa0b4"/>
<circle cx="41.4" cy="59.2" r="0.95" fill="#7fa0b4"/>
<circle cx="100.0" cy="39.8" r="0.95" fill="#8696c0"/>
<circle cx="56.1" cy="113.6" r="0.95" fill="#8696c0"/>
<circle cx="42.9" cy="141.9" r="0.95" fill="#7fa0b4"/>
<circle cx="65.2" cy="40.2" r="0.95" fill="#8696c0"/>
<circle cx="47.7" cy="135.6" r="0.95" fill="#8696c0"/>
<circle cx="103.4" cy="39.2" r="0.95" fill="#8696c0"/>
<circle cx="48.6" cy="119.7" r="0.95" fill="#8696c0"/>
<circle cx="75.7" cy="62.5" r="0.95" fill="#8696c0"/>
<circle cx="31.8" cy="46.0" r="0.95" fill="#8696c0"/>
<circle cx="84.3" cy="37.5" r="0.95" fill="#8696c0"/>
<circle cx="56.9" cy="86.0" r="0.95" fill="#7fa0b4"/>
<circle cx="30.0" cy="62.6" r="0.95" fill="#7fa0b4"/>
<circle cx="35.5" cy="112.9" r="0.95" fill="#8696c0"/>
<circle cx="106.7" cy="120.1" r="0.95" fill="#7fa0b4"/>
<circle cx="49.2" cy="27.7" r="0.95" fill="#8696c0"/>
<circle cx="56.0" cy="75.2" r="0.95" fill="#8696c0"/>
<circle cx="87.6" cy="54.8" r="0.95" fill="#8696c0"/>
<circle cx="34.5" cy="137.2" r="0.95" fill="#8696c0"/>
<circle cx="38.7" cy="48.6" r="0.95" fill="#8696c0"/>
<circle cx="82.1" cy="46.3" r="0.95" fill="#8696c0"/>
<circle cx="75.9" cy="112.9" r="0.95" fill="#8696c0"/>
<circle cx="86.3" cy="67.3" r="0.95" fill="#7fa0b4"/>
<circle cx="99.9" cy="120.3" r="0.95" fill="#7fa0b4"/>
<circle cx="46.2" cy="37.8" r="0.95" fill="#8696c0"/>
<circle cx="43.1" cy="137.4" r="0.95" fill="#7fa0b4"/>
<circle cx="87.2" cy="72.8" r="0.95" fill="#8696c0"/>
<circle cx="99.4" cy="58.9" r="0.95" fill="#7fa0b4"/>
<circle cx="110.1" cy="76.6" r="0.95" fill="#8696c0"/>
<circle cx="91.2" cy="126.9" r="0.95" fill="#8696c0"/>
<circle cx="28.9" cy="110.6" r="0.95" fill="#8696c0"/>
<circle cx="108.5" cy="39.8" r="0.95" fill="#7fa0b4"/>
<circle cx="87.9" cy="123.9" r="0.95" fill="#8696c0"/>
<circle cx="73.5" cy="55.0" r="0.95" fill="#7fa0b4"/>
<circle cx="56.6" cy="75.0" r="0.95" fill="#7fa0b4"/>
<circle cx="52.3" cy="40.9" r="0.95" fill="#8696c0"/>
<circle cx="85.0" cy="53.5" r="0.95" fill="#7fa0b4"/>
<circle cx="70.9" cy="79.2" r="0.95" fill="#8696c0"/>
<circle cx="56.0" cy="61.1" r="0.95" fill="#8696c0"/>
<circle cx="36.9" cy="93.8" r="0.95" fill="#8696c0"/>
<circle cx="84.7" cy="98.2" r="0.95" fill="#8696c0"/>
<circle cx="99.6" cy="38.2" r="0.95" fill="#7fa0b4"/>
<circle cx="56.8" cy="49.6" r="0.95" fill="#7fa0b4"/>
<circle cx="49.6" cy="48.4" r="0.95" fill="#8696c0"/>
<circle cx="64.8" cy="38.0" r="0.95" fill="#8696c0"/>
<circle cx="66.6" cy="69.0" r="0.95" fill="#7fa0b4"/>
<circle cx="31.6" cy="112.9" r="0.95" fill="#8696c0"/>
<circle cx="33.9" cy="84.6" r="0.95" fill="#8696c0"/>
<circle cx="107.7" cy="103.9" r="0.95" fill="#8696c0"/>
<circle cx="83.4" cy="55.2" r="0.95" fill="#7fa0b4"/>
<circle cx="94.5" cy="128.1" r="0.95" fill="#7fa0b4"/>
<circle cx="82.1" cy="128.9" r="0.95" fill="#7fa0b4"/>
<circle cx="95.4" cy="127.0" r="0.95" fill="#8696c0"/>
<circle cx="40.8" cy="126.3" r="0.95" fill="#8696c0"/>
<circle cx="74.2" cy="69.8" r="0.95" fill="#8696c0"/>
<circle cx="45.8" cy="29.1" r="0.95" fill="#8696c0"/>
<circle cx="98.6" cy="111.5" r="0.95" fill="#8696c0"/>
<circle cx="69.0" cy="85.9" r="0.95" fill="#7fa0b4"/>
<circle cx="86.6" cy="44.3" r="0.95" fill="#8696c0"/>
<circle cx="100.5" cy="130.1" r="0.95" fill="#8696c0"/>
<circle cx="49.8" cy="106.0" r="0.95" fill="#8696c0"/>
<circle cx="54.8" cy="78.4" r="0.95" fill="#8696c0"/>
<circle cx="50.9" cy="79.0" r="0.95" fill="#8696c0"/>
<circle cx="55.7" cy="48.2" r="0.95" fill="#7fa0b4"/>
<circle cx="53.5" cy="81.1" r="0.95" fill="#8696c0"/>
<circle cx="106.7" cy="131.3" r="0.95" fill="#8696c0"/>
<circle cx="85.6" cy="99.5" r="0.95" fill="#8696c0"/>
<circle cx="110.7" cy="83.6" r="0.95" fill="#7fa0b4"/>
<circle cx="41.2" cy="108.2" r="0.95" fill="#7fa0b4"/>
<circle cx="84.1" cy="70.1" r="0.95" fill="#8696c0"/>
<circle cx="61.9" cy="89.7" r="0.95" fill="#8696c0"/>
<circle cx="34.4" cy="46.4" r="0.95" fill="#8696c0"/>
<circle cx="73.9" cy="37.9" r="0.95" fill="#8696c0"/>
<circle cx="47.1" cy="35.8" r="0.95" fill="#8696c0"/>
<circle cx="46.9" cy="84.7" r="0.95" fill="#8696c0"/>
<circle cx="61.1" cy="33.1" r="0.95" fill="#8696c0"/>
<circle cx="102.6" cy="92.3" r="0.95" fill="#8696c0"/>
<circle cx="89.7" cy="36.7" r="0.95" fill="#8696c0"/>
<circle cx="39.6" cy="143.0" r="0.95" fill="#7fa0b4"/>
<circle cx="45.6" cy="70.2" r="0.95" fill="#7fa0b4"/>
<circle cx="78.1" cy="50.4" r="0.95" fill="#7fa0b4"/>
<circle cx="88.4" cy="76.8" r="0.95" fill="#8696c0"/>
<circle cx="80.5" cy="132.1" r="0.95" fill="#8696c0"/>
<circle cx="103.2" cy="44.8" r="0.95" fill="#8696c0"/>
<circle cx="55.1" cy="118.7" r="0.95" fill="#8696c0"/>
<circle cx="35.2" cy="70.3" r="0.95" fill="#8696c0"/>
<circle cx="78.9" cy="36.4" r="0.95" fill="#8696c0"/>
<circle cx="34.3" cy="138.7" r="0.95" fill="#7fa0b4"/>
<circle cx="41.6" cy="79.4" r="0.95" fill="#8696c0"/>
<circle cx="76.9" cy="38.1" r="0.95" fill="#7fa0b4"/>
<circle cx="74.4" cy="60.0" r="0.95" fill="#8696c0"/>
<circle cx="58.7" cy="41.9" r="0.95" fill="#8696c0"/>
<circle cx="73.0" cy="109.5" r="0.95" fill="#8696c0"/>
<circle cx="69.7" cy="132.3" r="0.95" fill="#7fa0b4"/>
<circle cx="40.6" cy="125.5" r="0.95" fill="#8696c0"/>
<circle cx="67.3" cy="43.6" r="0.95" fill="#8696c0"/>
<circle cx="59.8" cy="132.3" r="0.95" fill="#7fa0b4"/>
<circle cx="54.0" cy="50.8" r="0.95" fill="#8696c0"/>
<circle cx="39.4" cy="68.8" r="0.95" fill="#8696c0"/>
<circle cx="76.5" cy="72.1" r="0.95" fill="#8696c0"/>
<circle cx="85.1" cy="57.8" r="0.95" fill="#7fa0b4"/>
<circle cx="69.5" cy="56.5" r="0.95" fill="#8696c0"/>
<circle cx="75.0" cy="119.6" r="0.95" fill="#8696c0"/>
<circle cx="81.6" cy="102.7" r="0.95" fill="#7fa0b4"/>
<circle cx="96.4" cy="132.2" r="0.95" fill="#8696c0"/>
<circle cx="51.7" cy="118.7" r="0.95" fill="#8696c0"/>
<circle cx="81.8" cy="67.5" r="0.95" fill="#8696c0"/>
<circle cx="60.9" cy="31.5" r="0.95" fill="#8696c0"/>
<circle cx="67.8" cy="69.5" r="0.95" fill="#7fa0b4"/>
<circle cx="45.4" cy="67.3" r="0.95" fill="#7fa0b4"/>
<circle cx="75.8" cy="61.5" r="0.95" fill="#7fa0b4"/>
<circle cx="30.0" cy="61.4" r="0.95" fill="#8696c0"/>
<circle cx="90.1" cy="92.4" r="0.95" fill="#8696c0"/>
<circle cx="40.3" cy="96.0" r="0.95" fill="#8696c0"/>
<circle cx="94.5" cy="77.1" r="0.95" fill="#8696c0"/>
<circle cx="30.2" cy="84.1" r="0.95" fill="#8696c0"/>
<circle cx="49.1" cy="55.9" r="0.95" fill="#7fa0b4"/>
<circle cx="39.0" cy="57.2" r="0.95" fill="#8696c0"/>
<circle cx="43.9" cy="73.5" r="0.95" fill="#7fa0b4"/>
<circle cx="78.9" cy="131.1" r="0.95" fill="#7fa0b4"/>
<circle cx="97.7" cy="132.6" r="0.95" fill="#7fa0b4"/>
<circle cx="41.1" cy="90.6" r="0.95" fill="#8696c0"/>
<circle cx="108.0" cy="50.3" r="0.95" fill="#8696c0"/>
<circle cx="92.2" cy="104.5" r="0.95" fill="#8696c0"/>
<circle cx="54.7" cy="31.1" r="0.95" fill="#8696c0"/>
<circle cx="78.4" cy="55.9" r="0.95" fill="#8696c0"/>
<circle cx="25.2" cy="138.7" r="0.95" fill="#7fa0b4"/>
<circle cx="79.9" cy="113.8" r="0.95" fill="#7fa0b4"/>
<circle cx="38.2" cy="41.7" r="0.95" fill="#8696c0"/>
<circle cx="32.2" cy="124.9" r="0.95" fill="#8696c0"/>
<circle cx="77.6" cy="92.8" r="0.95" fill="#8696c0"/>
<circle cx="54.1" cy="115.9" r="0.95" fill="#8696c0"/>
<circle cx="93.5" cy="120.2" r="0.95" fill="#8696c0"/>
<circle cx="24.8" cy="83.0" r="0.95" fill="#8696c0"/>
<circle cx="29.5" cy="86.2" r="0.95" fill="#8696c0"/>
<circle cx="40.5" cy="140.5" r="0.95" fill="#7fa0b4"/>
<circle cx="40.1" cy="115.5" r="0.95" fill="#7fa0b4"/>
<circle cx="113.4" cy="85.9" r="0.95" fill="#8696c0"/>
<circle cx="96.8" cy="81.1" r="0.95" fill="#8696c0"/>
<circle cx="106.2" cy="37.4" r="0.95" fill="#7fa0b4"/>
<circle cx="82.7" cy="73.8" r="0.95" fill="#8696c0"/>
<circle cx="29.5" cy="94.0" r="0.95" fill="#8696c0"/>
<circle cx="46.9" cy="56.5" r="0.95" fill="#8696c0"/>
<circle cx="45.1" cy="49.2" r="0.95" fill="#8696c0"/>
<circle cx="82.5" cy="61.0" r="0.95" fill="#8696c0"/>
<circle cx="102.5" cy="131.8" r="0.95" fill="#8696c0"/>
<circle cx="98.9" cy="59.0" r="0.95" fill="#8696c0"/>
<circle cx="86.1" cy="98.1" r="0.95" fill="#8696c0"/>
<circle cx="104.3" cy="50.0" r="0.95" fill="#8696c0"/>
<circle cx="56.8" cy="120.7" r="0.95" fill="#7fa0b4"/>
<circle cx="107.0" cy="42.7" r="0.95" fill="#7fa0b4"/>
<circle cx="54.9" cy="137.9" r="0.95" fill="#8696c0"/>
<circle cx="45.3" cy="122.2" r="0.95" fill="#7fa0b4"/>
<circle cx="69.9" cy="52.7" r="0.95" fill="#8696c0"/>
<circle cx="36.4" cy="77.1" r="0.95" fill="#7fa0b4"/>
<circle cx="86.4" cy="42.3" r="0.95" fill="#8696c0"/>
<circle cx="69.6" cy="37.9" r="0.95" fill="#8696c0"/>
<circle cx="69.2" cy="137.9" r="0.95" fill="#7fa0b4"/>
<circle cx="90.6" cy="57.8" r="0.95" fill="#7fa0b4"/>
<circle cx="48.1" cy="32.5" r="0.95" fill="#7fa0b4"/>
<circle cx="70.3" cy="74.6" r="0.95" fill="#8696c0"/>
<circle cx="86.6" cy="105.0" r="0.95" fill="#8696c0"/>
<circle cx="86.8" cy="145.8" r="0.95" fill="#8696c0"/>
<circle cx="53.0" cy="76.0" r="0.95" fill="#8696c0"/>
<circle cx="59.2" cy="71.8" r="0.95" fill="#8696c0"/>
<circle cx="108.3" cy="55.6" r="0.95" fill="#8696c0"/>
<circle cx="58.3" cy="53.9" r="0.95" fill="#7fa0b4"/>
<circle cx="34.6" cy="128.5" r="0.95" fill="#8696c0"/>
<circle cx="28.5" cy="110.1" r="0.95" fill="#8696c0"/>
<circle cx="74.0" cy="63.1" r="0.95" fill="#8696c0"/>
<circle cx="101.7" cy="87.3" r="0.95" fill="#8696c0"/>
<circle cx="45.3" cy="102.1" r="0.95" fill="#8696c0"/>
<circle cx="88.8" cy="72.8" r="0.95" fill="#8696c0"/>
<circle cx="79.8" cy="108.0" r="0.95" fill="#8696c0"/>
<circle cx="73.4" cy="51.7" r="0.95" fill="#8696c0"/>
<circle cx="48.1" cy="136.7" r="0.95" fill="#8696c0"/>
<circle cx="71.5" cy="83.1" r="0.95" fill="#7fa0b4"/>
<circle cx="36.9" cy="139.0" r="0.95" fill="#8696c0"/>
<circle cx="39.7" cy="125.9" r="0.95" fill="#8696c0"/>
<circle cx="99.3" cy="134.9" r="0.95" fill="#7fa0b4"/>
<circle cx="58.7" cy="127.2" r="0.95" fill="#7fa0b4"/>
<circle cx="38.0" cy="55.2" r="0.95" fill="#7fa0b4"/>
<circle cx="56.5" cy="123.6" r="0.95" fill="#8696c0"/>
<circle cx="32.0" cy="73.0" r="0.95" fill="#8696c0"/>
<circle cx="87.2" cy="79.7" r="0.95" fill="#8696c0"/>
<circle cx="85.9" cy="69.5" r="0.95" fill="#8696c0"/>
<circle cx="45.6" cy="70.0" r="0.95" fill="#8696c0"/>
<circle cx="40.2" cy="113.1" r="0.95" fill="#8696c0"/>
<circle cx="62.5" cy="122.2" r="0.95" fill="#8696c0"/>
<circle cx="88.8" cy="60.6" r="0.95" fill="#8696c0"/>
<circle cx="83.0" cy="124.5" r="0.95" fill="#8696c0"/>
<circle cx="57.9" cy="106.5" r="0.95" fill="#7fa0b4"/>
<circle cx="92.8" cy="71.0" r="0.95" fill="#8696c0"/>
<circle cx="69.2" cy="135.8" r="0.95" fill="#7fa0b4"/>
<circle cx="77.9" cy="81.4" r="0.95" fill="#8696c0"/>
<circle cx="100.4" cy="75.4" r="0.95" fill="#8696c0"/>
<circle cx="105.0" cy="78.5" r="0.95" fill="#8696c0"/>
<circle cx="70.6" cy="126.3" r="0.95" fill="#8696c0"/>
<circle cx="60.6" cy="29.0" r="0.95" fill="#8696c0"/>
<circle cx="44.1" cy="33.6" r="0.95" fill="#7fa0b4"/>
<circle cx="32.0" cy="117.4" r="0.95" fill="#7fa0b4"/>
<circle cx="86.0" cy="112.2" r="0.95" fill="#7fa0b4"/>
<circle cx="86.9" cy="75.8" r="0.95" fill="#8696c0"/>
<circle cx="103.3" cy="42.0" r="0.95" fill="#8696c0"/>
<circle cx="47.9" cy="62.8" r="0.95" fill="#7fa0b4"/>
<circle cx="102.2" cy="92.9" r="0.95" fill="#8696c0"/>
<circle cx="28.7" cy="61.8" r="0.95" fill="#8696c0"/>
<circle cx="97.0" cy="130.2" r="0.95" fill="#7fa0b4"/>
<circle cx="28.7" cy="90.6" r="0.95" fill="#8696c0"/>
<circle cx="68.5" cy="96.4" r="0.95" fill="#8696c0"/>
<circle cx="42.2" cy="138.0" r="0.95" fill="#7fa0b4"/>
<circle cx="52.6" cy="90.1" r="0.95" fill="#8696c0"/>
<circle cx="53.4" cy="57.9" r="0.95" fill="#8696c0"/>
<circle cx="50.5" cy="112.1" r="0.95" fill="#8696c0"/>
<circle cx="65.4" cy="139.9" r="0.95" fill="#8696c0"/>
<circle cx="29.3" cy="77.8" r="0.95" fill="#8696c0"/>
<circle cx="78.3" cy="46.3" r="0.95" fill="#8696c0"/>
<circle cx="75.1" cy="123.3" r="0.95" fill="#8696c0"/>
<circle cx="85.4" cy="60.6" r="0.95" fill="#7fa0b4"/>
<circle cx="100.3" cy="42.1" r="0.95" fill="#8696c0"/>
<circle cx="42.8" cy="36.5" r="0.95" fill="#7fa0b4"/>
<circle cx="95.4" cy="141.9" r="0.95" fill="#7fa0b4"/>
<circle cx="100.1" cy="60.4" r="0.95" fill="#7fa0b4"/>
<circle cx="77.0" cy="63.5" r="0.95" fill="#8696c0"/>
<circle cx="38.0" cy="137.1" r="0.95" fill="#8696c0"/>
<circle cx="37.8" cy="123.1" r="0.95" fill="#8696c0"/>
<circle cx="27.0" cy="71.1" r="0.95" fill="#7fa0b4"/>
<circle cx="90.3" cy="77.3" r="0.95" fill="#8696c0"/>
<circle cx="92.3" cy="85.6" r="0.95" fill="#8696c0"/>
<line x1="68.5" y1="19.5" x2="68.5" y2="152.5" stroke="#666" stroke-width="1"/>
<line x1="18" y1="87.5" x2="119.5" y2="87.5" stroke="#666" stroke-width="1"/>
<circle cx="40.8" cy="36.2" r="1.95" fill="#c20a2c"/>
<circle cx="37.6" cy="43.4" r="1.95" fill="#c20a2c"/>
<circle cx="24.5" cy="53.0" r="1.95" fill="#c20a2c"/>
<circle cx="34.4" cy="55.6" r="1.95" fill="#c20a2c"/>
<circle cx="42.3" cy="52.9" r="1.95" fill="#c20a2c"/>
<circle cx="55.6" cy="46.4" r="1.95" fill="#c20a2c"/>
<circle cx="60.9" cy="40.8" r="1.95" fill="#c20a2c"/>
<circle cx="66.5" cy="53.0" r="1.95" fill="#c20a2c"/>
<circle cx="66.8" cy="62.5" r="1.95" fill="#c20a2c"/>
<circle cx="42.5" cy="63.8" r="1.95" fill="#c20a2c"/>
<circle cx="58.5" cy="70.0" r="1.95" fill="#c20a2c"/>
<circle cx="58.0" cy="75.5" r="1.95" fill="#c20a2c"/>
<circle cx="69.0" cy="71.5" r="1.95" fill="#c20a2c"/>
<circle cx="71.5" cy="72.5" r="1.95" fill="#c20a2c"/>
<circle cx="77.0" cy="70.0" r="1.95" fill="#c20a2c"/>
<circle cx="78.5" cy="59.4" r="1.95" fill="#c20a2c"/>
<circle cx="90.0" cy="55.6" r="1.95" fill="#c20a2c"/>
<circle cx="97.6" cy="65.6" r="1.95" fill="#c20a2c"/>
<circle cx="109.0" cy="71.0" r="1.95" fill="#c20a2c"/>
<circle cx="88.6" cy="78.0" r="1.95" fill="#c20a2c"/>
<circle cx="93.0" cy="77.5" r="1.95" fill="#c20a2c"/>
<circle cx="97.0" cy="84.0" r="1.95" fill="#c20a2c"/>
<circle cx="79.9" cy="80.6" r="1.95" fill="#c20a2c"/>
<circle cx="66.5" cy="84.0" r="1.95" fill="#c20a2c"/>
<circle cx="49.0" cy="87.0" r="1.95" fill="#c20a2c"/>
<circle cx="28.8" cy="86.9" r="1.95" fill="#c20a2c"/>
<circle cx="66.6" cy="53.0" r="1.95" fill="#c20a2c"/>
<circle cx="77.7" cy="59.1" r="1.95" fill="#c20a2c"/>
<circle cx="90.4" cy="55.7" r="1.95" fill="#c20a2c"/>
<circle cx="68.7" cy="62.0" r="1.95" fill="#c20a2c"/>
<circle cx="97.8" cy="65.2" r="1.95" fill="#c20a2c"/>
<circle cx="108.4" cy="69.4" r="1.95" fill="#c20a2c"/>
<circle cx="41.3" cy="37.0" r="1.95" fill="#c20a2c"/>
<circle cx="46.6" cy="66.4" r="1.95" fill="#c20a2c"/>
<circle cx="33.0" cy="74.0" r="1.95" fill="#c20a2c"/>
<circle cx="52.0" cy="80.0" r="1.95" fill="#c20a2c"/>
<circle cx="104.0" cy="80.0" r="1.95" fill="#c20a2c"/>
<circle cx="85.0" cy="85.0" r="1.95" fill="#c20a2c"/>
<circle cx="60.0" cy="84.0" r="1.95" fill="#c20a2c"/>
<circle cx="29.6" cy="87.4" r="1.95" fill="#c20a2c"/>
<circle cx="31.5" cy="96.3" r="1.95" fill="#c20a2c"/>
<circle cx="36.2" cy="98.5" r="1.95" fill="#c20a2c"/>
<circle cx="44.8" cy="97.3" r="1.95" fill="#c20a2c"/>
<circle cx="27.2" cy="109.0" r="1.95" fill="#c20a2c"/>
<circle cx="39.7" cy="105.7" r="1.95" fill="#c20a2c"/>
<circle cx="61.8" cy="99.9" r="1.95" fill="#c20a2c"/>
<circle cx="66.2" cy="98.9" r="1.95" fill="#c20a2c"/>
<circle cx="61.3" cy="108.1" r="1.95" fill="#c20a2c"/>
<circle cx="67.1" cy="111.9" r="1.95" fill="#c20a2c"/>
<circle cx="50.3" cy="112.9" r="1.95" fill="#c20a2c"/>
<circle cx="55.1" cy="113.8" r="1.95" fill="#c20a2c"/>
<circle cx="58.9" cy="115.8" r="1.95" fill="#c20a2c"/>
<circle cx="44.0" cy="117.2" r="1.95" fill="#c20a2c"/>
<circle cx="45.0" cy="122.5" r="1.95" fill="#c20a2c"/>
<circle cx="66.2" cy="120.6" r="1.95" fill="#c20a2c"/>
<circle cx="65.2" cy="125.4" r="1.95" fill="#c20a2c"/>
<circle cx="34.9" cy="127.8" r="1.95" fill="#c20a2c"/>
<circle cx="48.4" cy="131.2" r="1.95" fill="#c20a2c"/>
<circle cx="53.2" cy="132.1" r="1.95" fill="#c20a2c"/>
<circle cx="58.0" cy="129.2" r="1.95" fill="#c20a2c"/>
<circle cx="57.5" cy="136.4" r="1.95" fill="#c20a2c"/>
<circle cx="65.7" cy="134.0" r="1.95" fill="#c20a2c"/>
<circle cx="34.4" cy="137.4" r="1.95" fill="#c20a2c"/>
<circle cx="42.6" cy="136.9" r="1.95" fill="#c20a2c"/>
<circle cx="49.8" cy="138.8" r="1.95" fill="#c20a2c"/>
<circle cx="50.8" cy="141.3" r="1.95" fill="#c20a2c"/>
<circle cx="62.8" cy="140.8" r="1.95" fill="#c20a2c"/>
<circle cx="64.2" cy="135.0" r="1.95" fill="#c20a2c"/>
<circle cx="87.2" cy="89.2" r="1.95" fill="#c20a2c"/>
<circle cx="90.4" cy="89.4" r="1.95" fill="#c20a2c"/>
<circle cx="96.7" cy="86.1" r="1.95" fill="#c20a2c"/>
<circle cx="109.4" cy="93.5" r="1.95" fill="#c20a2c"/>
<circle cx="103.1" cy="95.1" r="1.95" fill="#c20a2c"/>
<circle cx="112.1" cy="100.9" r="1.95" fill="#c20a2c"/>
<circle cx="87.8" cy="95.1" r="1.95" fill="#c20a2c"/>
<circle cx="77.7" cy="99.8" r="1.95" fill="#c20a2c"/>
<circle cx="91.5" cy="101.4" r="1.95" fill="#c20a2c"/>
<circle cx="95.2" cy="100.3" r="1.95" fill="#c20a2c"/>
<circle cx="98.9" cy="100.9" r="1.95" fill="#c20a2c"/>
<circle cx="102.0" cy="98.2" r="1.95" fill="#c20a2c"/>
<circle cx="105.2" cy="100.9" r="1.95" fill="#c20a2c"/>
<circle cx="106.8" cy="104.0" r="1.95" fill="#c20a2c"/>
<circle cx="96.7" cy="104.6" r="1.95" fill="#c20a2c"/>
<circle cx="101.5" cy="102.5" r="1.95" fill="#c20a2c"/>
<circle cx="84.6" cy="103.5" r="1.95" fill="#c20a2c"/>
<circle cx="75.6" cy="104.0" r="1.95" fill="#c20a2c"/>
<circle cx="70.8" cy="106.2" r="1.95" fill="#c20a2c"/>
<circle cx="87.2" cy="107.8" r="1.95" fill="#c20a2c"/>
<circle cx="86.7" cy="109.9" r="1.95" fill="#c20a2c"/>
<circle cx="103.1" cy="107.2" r="1.95" fill="#c20a2c"/>
<circle cx="74.5" cy="112.0" r="1.95" fill="#c20a2c"/>
<circle cx="81.9" cy="113.4" r="1.95" fill="#c20a2c"/>
<circle cx="93.0" cy="113.0" r="1.95" fill="#c20a2c"/>
<circle cx="93.6" cy="116.2" r="1.95" fill="#c20a2c"/>
<circle cx="101.5" cy="112.0" r="1.95" fill="#c20a2c"/>
<circle cx="102.0" cy="117.8" r="1.95" fill="#c20a2c"/>
<circle cx="96.7" cy="119.4" r="1.95" fill="#c20a2c"/>
<circle cx="86.7" cy="117.3" r="1.95" fill="#c20a2c"/>
<circle cx="84.0" cy="119.4" r="1.95" fill="#c20a2c"/>
<circle cx="86.2" cy="120.4" r="1.95" fill="#c20a2c"/>
<circle cx="78.2" cy="118.9" r="1.95" fill="#c20a2c"/>
<circle cx="80.9" cy="123.1" r="1.95" fill="#c20a2c"/>
<circle cx="102.6" cy="123.1" r="1.95" fill="#c20a2c"/>
<circle cx="95.7" cy="125.7" r="1.95" fill="#c20a2c"/>
<circle cx="97.8" cy="126.3" r="1.95" fill="#c20a2c"/>
<circle cx="83.0" cy="126.8" r="1.95" fill="#c20a2c"/>
<circle cx="67.1" cy="119.9" r="1.95" fill="#c20a2c"/>
<circle cx="66.6" cy="124.7" r="1.95" fill="#c20a2c"/>
<circle cx="70.3" cy="126.3" r="1.95" fill="#c20a2c"/>
<circle cx="74.0" cy="125.7" r="1.95" fill="#c20a2c"/>
<circle cx="101.0" cy="132.6" r="1.95" fill="#c20a2c"/>
<circle cx="92.5" cy="134.7" r="1.95" fill="#c20a2c"/>
<circle cx="78.2" cy="133.7" r="1.95" fill="#c20a2c"/>
<circle cx="80.9" cy="132.6" r="1.95" fill="#c20a2c"/>
<circle cx="83.5" cy="134.2" r="1.95" fill="#c20a2c"/>
<circle cx="76.6" cy="136.3" r="1.95" fill="#c20a2c"/>
<circle cx="73.5" cy="136.9" r="1.95" fill="#c20a2c"/>
<circle cx="87.8" cy="136.9" r="1.95" fill="#c20a2c"/>
<circle cx="67.1" cy="136.9" r="1.95" fill="#c20a2c"/>
<circle cx="86.2" cy="141.6" r="1.95" fill="#c20a2c"/>
<circle cx="89.3" cy="141.6" r="1.95" fill="#c20a2c"/>
<circle cx="66.6" cy="131.0" r="1.95" fill="#c20a2c"/>
<circle cx="68.2" cy="133.7" r="1.95" fill="#c20a2c"/>
<circle cx="68.0" cy="104.0" r="1.95" fill="#c20a2c"/>
<circle cx="69.0" cy="92.0" r="1.95" fill="#c20a2c"/>
<circle cx="72.0" cy="95.0" r="1.95" fill="#c20a2c"/>
<circle cx="56.0" cy="92.0" r="1.95" fill="#c20a2c"/>
<circle cx="52.0" cy="101.0" r="1.95" fill="#c20a2c"/>
<circle cx="48.0" cy="106.0" r="1.95" fill="#c20a2c"/>
<circle cx="56.0" cy="124.0" r="1.95" fill="#c20a2c"/>
<circle cx="71.0" cy="114.0" r="1.95" fill="#c20a2c"/>
<circle cx="64.0" cy="116.0" r="1.95" fill="#c20a2c"/>
<circle cx="69.0" cy="129.0" r="1.95" fill="#c20a2c"/>
<circle cx="62.0" cy="129.0" r="1.95" fill="#c20a2c"/>
<circle cx="58.0" cy="104.0" r="1.95" fill="#c20a2c"/>
<text x="37.6" y="162.3" font-size="10.5" fill="#333" stroke="#333" stroke-width="0.15" textLength="59" lengthAdjust="spacingAndGlyphs" style="">PC1 (41.66%)</text>
<text x="14.6" y="118.2" font-size="10.5" fill="#333" stroke="#333" stroke-width="0.15" textLength="58.5" lengthAdjust="spacingAndGlyphs" transform="rotate(-90 14.6 118.2)" style="">PC2 (25.85%)</text>
<circle cx="41.9" cy="171.6" r="2.1" fill="#c0102c"/>
<text x="47.7" y="174.5" font-size="8.2" fill="#333" stroke="#333" stroke-width="0.08" textLength="38" lengthAdjust="spacingAndGlyphs" style=""><tspan style="font-style:italic">SOCS1</tspan> LoF</text>
<circle cx="41.9" cy="183.7" r="2.0" fill="#1d3f6e"/>
<text x="47.7" y="185.7" font-size="8.2" fill="#333" stroke="#333" stroke-width="0.08" textLength="38" lengthAdjust="spacingAndGlyphs" style=""><tspan style="font-style:italic">SOCS1</tspan> WT</text>
<text x="200.4" y="17.8" font-size="10.8" fill="#333" stroke="#333" stroke-width="0.15" textLength="31" lengthAdjust="spacingAndGlyphs" style="font-style:italic;">SOCS1</text>
<line x1="158.5" y1="23" x2="158.5" y2="160" stroke="#333" stroke-width="1"/>
<line x1="158" y1="159.5" x2="266" y2="159.5" stroke="#333" stroke-width="1"/>
<line x1="155.3" y1="159.6" x2="158.5" y2="159.6" stroke="#333" stroke-width="0.9"/>
<text x="152.7" y="162.7" font-size="8.8" fill="#333" stroke="#333" stroke-width="0.15" text-anchor="end" style="">0</text>
<line x1="155.3" y1="130.29999999999998" x2="158.5" y2="130.29999999999998" stroke="#333" stroke-width="0.9"/>
<text x="152.7" y="133.39999999999998" font-size="8.8" fill="#333" stroke="#333" stroke-width="0.15" text-anchor="end" textLength="9.2" lengthAdjust="spacingAndGlyphs" style="">10</text>
<line x1="155.3" y1="101.0" x2="158.5" y2="101.0" stroke="#333" stroke-width="0.9"/>
<text x="152.7" y="104.1" font-size="8.8" fill="#333" stroke="#333" stroke-width="0.15" text-anchor="end" textLength="9.2" lengthAdjust="spacingAndGlyphs" style="">20</text>
<line x1="155.3" y1="71.69999999999999" x2="158.5" y2="71.69999999999999" stroke="#333" stroke-width="0.9"/>
<text x="152.7" y="74.79999999999998" font-size="8.8" fill="#333" stroke="#333" stroke-width="0.15" text-anchor="end" textLength="9.2" lengthAdjust="spacingAndGlyphs" style="">30</text>
<line x1="155.3" y1="42.39999999999999" x2="158.5" y2="42.39999999999999" stroke="#333" stroke-width="0.9"/>
<text x="152.7" y="45.49999999999999" font-size="8.8" fill="#333" stroke="#333" stroke-width="0.15" text-anchor="end" textLength="9.2" lengthAdjust="spacingAndGlyphs" style="">40</text>
<rect x="168" y="135.8" width="13.800000000000011" height="23.69999999999999" fill="#c6062c"/>
<line x1="174.9" y1="160" x2="174.9" y2="162" stroke="#333" stroke-width="0.8"/>
<rect x="195.2" y="126" width="13.600000000000023" height="33.5" fill="#c6062c"/>
<line x1="202.0" y1="160" x2="202.0" y2="162" stroke="#333" stroke-width="0.8"/>
<rect x="222.7" y="107.4" width="13.600000000000023" height="52.099999999999994" fill="#c6062c"/>
<line x1="229.5" y1="160" x2="229.5" y2="162" stroke="#333" stroke-width="0.8"/>
<rect x="250" y="68.8" width="13.5" height="90.7" fill="#c6062c"/>
<line x1="256.75" y1="160" x2="256.75" y2="162" stroke="#333" stroke-width="0.8"/>
<text x="174.9" y="172.8" font-size="8.2" fill="#333" stroke="#333" stroke-width="0.08" text-anchor="middle" style="">ABC</text>
<text x="174.9" y="183" font-size="8.2" fill="#333" stroke="#333" stroke-width="0.08" text-anchor="middle" style="">Cold</text>
<text x="202.0" y="172.8" font-size="8.2" fill="#333" stroke="#333" stroke-width="0.08" text-anchor="middle" style="">ABC</text>
<text x="202.0" y="183" font-size="8.2" fill="#333" stroke="#333" stroke-width="0.08" text-anchor="middle" style="">Hot</text>
<text x="229.5" y="172.8" font-size="8.2" fill="#333" stroke="#333" stroke-width="0.08" text-anchor="middle" style="">GCB</text>
<text x="229.5" y="183" font-size="8.2" fill="#333" stroke="#333" stroke-width="0.08" text-anchor="middle" style="">Cold</text>
<text x="256.75" y="172.8" font-size="8.2" fill="#333" stroke="#333" stroke-width="0.08" text-anchor="middle" style="">GCB</text>
<text x="256.75" y="183" font-size="8.2" fill="#333" stroke="#333" stroke-width="0.08" text-anchor="middle" style="">Hot</text>
<text x="137.3" y="126.6" font-size="9.2" fill="#333" stroke="#333" stroke-width="0.15" textLength="70.6" lengthAdjust="spacingAndGlyphs" transform="rotate(-90 137.3 126.6)" style="">SOCS1 LoF cases (%)</text>
<path d="M174.8 42.6 V39.9 H202.3 V42.6 M229.4 42.6 V39.9 H256.9 V42.6" fill="none" stroke="#333" stroke-width="1.1"/>
<text x="188.6" y="37.1" font-size="9" fill="#333" stroke="#333" stroke-width="0.15" text-anchor="middle" textLength="15.6" lengthAdjust="spacingAndGlyphs" style="">0.22</text>
<text x="242.9" y="37.1" font-size="9" fill="#333" stroke="#333" stroke-width="0.15" text-anchor="middle" textLength="24.8" lengthAdjust="spacingAndGlyphs" style="">0.0092</text>
<text x="317.1" y="16.8" font-size="12.5" fill="#111" style="font-weight:bold;">B</text>
<text x="421.7" y="14.7" font-size="10" fill="#333" stroke="#333" stroke-width="0.15" text-anchor="middle" textLength="39.7" lengthAdjust="spacingAndGlyphs" style="">GCB Hot</text>
<text x="333.8" y="27.1" font-size="10" fill="#333" stroke="#333" stroke-width="0.15" textLength="176.5" lengthAdjust="spacingAndGlyphs" style=""><tspan style="font-style:italic">SOCS1</tspan> : [Somatic mutation rate: 30.3%]</text>
<path d="M324.8 37 H327.6 V70.6 H324.8" fill="none" stroke="#333" stroke-width="1"/>
<text x="322.4" y="40.3" font-size="9.2" fill="#333" stroke="#333" stroke-width="0.15" text-anchor="end" style="">5</text>
<text x="322.4" y="73.9" font-size="9.2" fill="#333" stroke="#333" stroke-width="0.15" text-anchor="end" style="">1</text>
<line x1="336.6" y1="81" x2="336.6" y2="71.0" stroke="#cdcdcd" stroke-width="0.9"/>
<line x1="337.8" y1="81" x2="337.8" y2="71.0" stroke="#cdcdcd" stroke-width="0.9"/>
<line x1="339.5" y1="81" x2="339.5" y2="71.0" stroke="#cdcdcd" stroke-width="0.9"/>
<line x1="341.8" y1="81" x2="341.8" y2="71.0" stroke="#cdcdcd" stroke-width="0.9"/>
<line x1="343.0" y1="81" x2="343.0" y2="71.0" stroke="#cdcdcd" stroke-width="0.9"/>
<line x1="348.2" y1="81" x2="348.2" y2="71.0" stroke="#cdcdcd" stroke-width="0.9"/>
<line x1="349.0" y1="81" x2="349.0" y2="71.0" stroke="#cdcdcd" stroke-width="0.9"/>
<line x1="355.6" y1="81" x2="355.6" y2="71.0" stroke="#cdcdcd" stroke-width="0.9"/>
<line x1="356.8" y1="81" x2="356.8" y2="71.0" stroke="#cdcdcd" stroke-width="0.9"/>
<line x1="372.4" y1="81" x2="372.4" y2="71.0" stroke="#cdcdcd" stroke-width="0.9"/>
<line x1="380.1" y1="81" x2="380.1" y2="71.0" stroke="#cdcdcd" stroke-width="0.9"/>
<line x1="382.7" y1="81" x2="382.7" y2="71.0" stroke="#cdcdcd" stroke-width="0.9"/>
<line x1="387.0" y1="81" x2="387.0" y2="71.0" stroke="#cdcdcd" stroke-width="0.9"/>
<line x1="388.7" y1="81" x2="388.7" y2="71.0" stroke="#cdcdcd" stroke-width="0.9"/>
<line x1="392.2" y1="81" x2="392.2" y2="71.0" stroke="#cdcdcd" stroke-width="0.9"/>
<line x1="399.2" y1="81" x2="399.2" y2="71.0" stroke="#cdcdcd" stroke-width="0.9"/>
<line x1="400.1" y1="81" x2="400.1" y2="71.0" stroke="#cdcdcd" stroke-width="0.9"/>
<line x1="404.4" y1="81" x2="404.4" y2="71.0" stroke="#cdcdcd" stroke-width="0.9"/>
<line x1="407.0" y1="81" x2="407.0" y2="71.0" stroke="#cdcdcd" stroke-width="0.9"/>
<line x1="416.4" y1="81" x2="416.4" y2="71.0" stroke="#cdcdcd" stroke-width="0.9"/>
<line x1="418.3" y1="81" x2="418.3" y2="71.0" stroke="#cdcdcd" stroke-width="0.9"/>
<line x1="425.1" y1="81" x2="425.1" y2="71.0" stroke="#cdcdcd" stroke-width="0.9"/>
<line x1="426.4" y1="81" x2="426.4" y2="71.0" stroke="#cdcdcd" stroke-width="0.9"/>
<line x1="429.9" y1="81" x2="429.9" y2="71.0" stroke="#cdcdcd" stroke-width="0.9"/>
<line x1="432.8" y1="81" x2="432.8" y2="71.0" stroke="#cdcdcd" stroke-width="0.9"/>
<line x1="434.7" y1="81" x2="434.7" y2="71.0" stroke="#cdcdcd" stroke-width="0.9"/>
<line x1="436.6" y1="81" x2="436.6" y2="71.0" stroke="#cdcdcd" stroke-width="0.9"/>
<line x1="439.5" y1="81" x2="439.5" y2="71.0" stroke="#cdcdcd" stroke-width="0.9"/>
<line x1="452.0" y1="81" x2="452.0" y2="71.0" stroke="#cdcdcd" stroke-width="0.9"/>
<line x1="456.8" y1="81" x2="456.8" y2="71.0" stroke="#cdcdcd" stroke-width="0.9"/>
<line x1="461.6" y1="81" x2="461.6" y2="71.0" stroke="#cdcdcd" stroke-width="0.9"/>
<line x1="467.4" y1="81" x2="467.4" y2="71.0" stroke="#cdcdcd" stroke-width="0.9"/>
<line x1="471.6" y1="81" x2="471.6" y2="71.0" stroke="#cdcdcd" stroke-width="0.9"/>
<line x1="478.9" y1="81" x2="478.9" y2="71.0" stroke="#cdcdcd" stroke-width="0.9"/>
<line x1="480.8" y1="81" x2="480.8" y2="71.0" stroke="#cdcdcd" stroke-width="0.9"/>
<line x1="486.6" y1="81" x2="486.6" y2="71.0" stroke="#cdcdcd" stroke-width="0.9"/>
<line x1="490.5" y1="81" x2="490.5" y2="71.0" stroke="#cdcdcd" stroke-width="0.9"/>
<line x1="492.4" y1="81" x2="492.4" y2="71.0" stroke="#cdcdcd" stroke-width="0.9"/>
<line x1="495.3" y1="81" x2="495.3" y2="71.0" stroke="#cdcdcd" stroke-width="0.9"/>
<line x1="500.1" y1="81" x2="500.1" y2="71.0" stroke="#cdcdcd" stroke-width="0.9"/>
<line x1="503.0" y1="81" x2="503.0" y2="71.0" stroke="#cdcdcd" stroke-width="0.9"/>
<line x1="506.4" y1="81" x2="506.4" y2="71.0" stroke="#cdcdcd" stroke-width="0.9"/>
<line x1="507.8" y1="81" x2="507.8" y2="71.0" stroke="#cdcdcd" stroke-width="0.9"/>
<line x1="336.6" y1="81" x2="336.6" y2="54.2" stroke="#cdcdcd" stroke-width="0.9"/>
<line x1="336.6" y1="81" x2="336.6" y2="62.6" stroke="#cdcdcd" stroke-width="0.9"/>
<line x1="348.2" y1="81" x2="348.2" y2="54.2" stroke="#cdcdcd" stroke-width="0.9"/>
<line x1="399.2" y1="81" x2="399.2" y2="62.6" stroke="#cdcdcd" stroke-width="0.9"/>
<line x1="429.9" y1="81" x2="429.9" y2="54.2" stroke="#cdcdcd" stroke-width="0.9"/>
<line x1="452.0" y1="81" x2="452.0" y2="62.6" stroke="#cdcdcd" stroke-width="0.9"/>
<line x1="478.9" y1="81" x2="478.9" y2="62.6" stroke="#cdcdcd" stroke-width="0.9"/>
<ellipse cx="336.6" cy="71.0" rx="1.35" ry="0.85" fill="#c4d8b4" stroke="#a8a8a8" stroke-width="0.35"/>
<ellipse cx="337.8" cy="71.0" rx="1.35" ry="0.85" fill="#c4d8b4" stroke="#a8a8a8" stroke-width="0.35"/>
<ellipse cx="339.5" cy="71.0" rx="1.35" ry="0.85" fill="#c4d8b4" stroke="#a8a8a8" stroke-width="0.35"/>
<ellipse cx="341.8" cy="71.0" rx="1.35" ry="0.85" fill="#c4d8b4" stroke="#a8a8a8" stroke-width="0.35"/>
<ellipse cx="343.0" cy="71.0" rx="1.35" ry="0.85" fill="#c4d8b4" stroke="#a8a8a8" stroke-width="0.35"/>
<ellipse cx="348.2" cy="71.0" rx="1.35" ry="0.85" fill="#c4d8b4" stroke="#a8a8a8" stroke-width="0.35"/>
<ellipse cx="349.0" cy="71.0" rx="1.35" ry="0.85" fill="#c4d8b4" stroke="#a8a8a8" stroke-width="0.35"/>
<ellipse cx="355.6" cy="71.0" rx="1.35" ry="0.85" fill="#c4d8b4" stroke="#a8a8a8" stroke-width="0.35"/>
<ellipse cx="356.8" cy="71.0" rx="1.35" ry="0.85" fill="#c4d8b4" stroke="#a8a8a8" stroke-width="0.35"/>
<ellipse cx="372.4" cy="71.0" rx="1.35" ry="0.85" fill="#c4d8b4" stroke="#a8a8a8" stroke-width="0.35"/>
<ellipse cx="380.1" cy="71.0" rx="1.35" ry="0.85" fill="#c4d8b4" stroke="#a8a8a8" stroke-width="0.35"/>
<ellipse cx="382.7" cy="71.0" rx="1.35" ry="0.85" fill="#c4d8b4" stroke="#a8a8a8" stroke-width="0.35"/>
<ellipse cx="387.0" cy="71.0" rx="1.35" ry="0.85" fill="#c4d8b4" stroke="#a8a8a8" stroke-width="0.35"/>
<ellipse cx="388.7" cy="71.0" rx="1.35" ry="0.85" fill="#c4d8b4" stroke="#a8a8a8" stroke-width="0.35"/>
<ellipse cx="392.2" cy="71.0" rx="1.35" ry="0.85" fill="#c4d8b4" stroke="#a8a8a8" stroke-width="0.35"/>
<ellipse cx="399.2" cy="71.0" rx="1.35" ry="0.85" fill="#c4d8b4" stroke="#a8a8a8" stroke-width="0.35"/>
<ellipse cx="400.1" cy="71.0" rx="1.35" ry="0.85" fill="#c4d8b4" stroke="#a8a8a8" stroke-width="0.35"/>
<ellipse cx="404.4" cy="71.0" rx="1.35" ry="0.85" fill="#c4d8b4" stroke="#a8a8a8" stroke-width="0.35"/>
<ellipse cx="407.0" cy="71.0" rx="1.35" ry="0.85" fill="#c4d8b4" stroke="#a8a8a8" stroke-width="0.35"/>
<ellipse cx="416.4" cy="71.0" rx="1.35" ry="0.85" fill="#c4d8b4" stroke="#a8a8a8" stroke-width="0.35"/>
<ellipse cx="418.3" cy="71.0" rx="1.35" ry="0.85" fill="#c4d8b4" stroke="#a8a8a8" stroke-width="0.35"/>
<ellipse cx="425.1" cy="71.0" rx="1.35" ry="0.85" fill="#c4d8b4" stroke="#a8a8a8" stroke-width="0.35"/>
<ellipse cx="426.4" cy="71.0" rx="1.35" ry="0.85" fill="#c4d8b4" stroke="#a8a8a8" stroke-width="0.35"/>
<ellipse cx="429.9" cy="71.0" rx="1.35" ry="0.85" fill="#c4d8b4" stroke="#a8a8a8" stroke-width="0.35"/>
<ellipse cx="432.8" cy="71.0" rx="1.35" ry="0.85" fill="#c4d8b4" stroke="#a8a8a8" stroke-width="0.35"/>
<ellipse cx="434.7" cy="71.0" rx="1.35" ry="0.85" fill="#c4d8b4" stroke="#a8a8a8" stroke-width="0.35"/>
<ellipse cx="436.6" cy="71.0" rx="1.35" ry="0.85" fill="#c4d8b4" stroke="#a8a8a8" stroke-width="0.35"/>
<ellipse cx="439.5" cy="71.0" rx="1.35" ry="0.85" fill="#c4d8b4" stroke="#a8a8a8" stroke-width="0.35"/>
<ellipse cx="452.0" cy="71.0" rx="1.35" ry="0.85" fill="#c4d8b4" stroke="#a8a8a8" stroke-width="0.35"/>
<ellipse cx="456.8" cy="71.0" rx="1.35" ry="0.85" fill="#c4d8b4" stroke="#a8a8a8" stroke-width="0.35"/>
<ellipse cx="461.6" cy="71.0" rx="1.35" ry="0.85" fill="#c4d8b4" stroke="#a8a8a8" stroke-width="0.35"/>
<ellipse cx="467.4" cy="71.0" rx="1.35" ry="0.85" fill="#c4d8b4" stroke="#a8a8a8" stroke-width="0.35"/>
<ellipse cx="471.6" cy="71.0" rx="1.35" ry="0.85" fill="#c4d8b4" stroke="#a8a8a8" stroke-width="0.35"/>
<ellipse cx="478.9" cy="71.0" rx="1.35" ry="0.85" fill="#c4d8b4" stroke="#a8a8a8" stroke-width="0.35"/>
<ellipse cx="480.8" cy="71.0" rx="1.35" ry="0.85" fill="#c4d8b4" stroke="#a8a8a8" stroke-width="0.35"/>
<ellipse cx="486.6" cy="71.0" rx="1.35" ry="0.85" fill="#c4d8b4" stroke="#a8a8a8" stroke-width="0.35"/>
<ellipse cx="490.5" cy="71.0" rx="1.35" ry="0.85" fill="#c4d8b4" stroke="#a8a8a8" stroke-width="0.35"/>
<ellipse cx="492.4" cy="71.0" rx="1.35" ry="0.85" fill="#c4d8b4" stroke="#a8a8a8" stroke-width="0.35"/>
<ellipse cx="495.3" cy="71.0" rx="1.35" ry="0.85" fill="#c4d8b4" stroke="#a8a8a8" stroke-width="0.35"/>
<ellipse cx="500.1" cy="71.0" rx="1.35" ry="0.85" fill="#c4d8b4" stroke="#a8a8a8" stroke-width="0.35"/>
<ellipse cx="503.0" cy="71.0" rx="1.35" ry="0.85" fill="#c4d8b4" stroke="#a8a8a8" stroke-width="0.35"/>
<ellipse cx="506.4" cy="71.0" rx="1.35" ry="0.85" fill="#c4d8b4" stroke="#a8a8a8" stroke-width="0.35"/>
<ellipse cx="507.8" cy="71.0" rx="1.35" ry="0.85" fill="#c4d8b4" stroke="#a8a8a8" stroke-width="0.35"/>
<ellipse cx="336.6" cy="54.2" rx="1.35" ry="0.85" fill="#c4d8b4" stroke="#a8a8a8" stroke-width="0.35"/>
<ellipse cx="336.6" cy="62.6" rx="1.35" ry="0.85" fill="#c4d8b4" stroke="#a8a8a8" stroke-width="0.35"/>
<ellipse cx="348.2" cy="54.2" rx="1.35" ry="0.85" fill="#c4d8b4" stroke="#a8a8a8" stroke-width="0.35"/>
<ellipse cx="399.2" cy="62.6" rx="1.35" ry="0.85" fill="#c4d8b4" stroke="#a8a8a8" stroke-width="0.35"/>
<ellipse cx="429.9" cy="54.2" rx="1.35" ry="0.85" fill="#c4d8b4" stroke="#a8a8a8" stroke-width="0.35"/>
<ellipse cx="452.0" cy="62.6" rx="1.35" ry="0.85" fill="#c4d8b4" stroke="#a8a8a8" stroke-width="0.35"/>
<ellipse cx="478.9" cy="62.6" rx="1.35" ry="0.85" fill="#c4d8b4" stroke="#a8a8a8" stroke-width="0.35"/>
<rect x="334.7" y="81" width="174.3" height="5.8" fill="#d2d2d8" stroke="#555" stroke-width="0.7"/>
<rect x="378.7" y="80.7" width="11.6" height="6.4" fill="#45a5da"/>
<rect x="390.3" y="80.3" width="80.1" height="7" fill="#c20c2c"/>
<rect x="470.4" y="80.5" width="1.6" height="6.6" fill="#f4f0ea"/>
<rect x="472" y="80.5" width="37" height="6.6" fill="#e08e30"/>
<text x="384.5" y="86.4" font-size="7.2" fill="#14407a" stroke="#14407a" stroke-width="0.08" text-anchor="middle" textLength="11" lengthAdjust="spacingAndGlyphs" style="">KIR</text>
<text x="430.7" y="86.2" font-size="7.4" fill="#f4c8cc" stroke="#f4c8cc" stroke-width="0.08" text-anchor="middle" textLength="13.6" lengthAdjust="spacingAndGlyphs" style="">SH2</text>
<text x="489.7" y="86.2" font-size="7.2" fill="#fff0d8" stroke="#fff0d8" stroke-width="0.08" text-anchor="middle" textLength="37.5" lengthAdjust="spacingAndGlyphs" style="">SOCS Box</text>
<line x1="332" y1="88.6" x2="510.5" y2="88.6" stroke="#2a2a35" stroke-width="1"/>
<line x1="334.6" y1="88.6" x2="334.6" y2="91.5" stroke="#333" stroke-width="0.8"/>
<text x="337.5" y="99" font-size="8.6" fill="#333" stroke="#333" stroke-width="0.15" text-anchor="end" transform="rotate(-45 337.5 99)" style="">0</text>
<line x1="376.1" y1="88.6" x2="376.1" y2="91.5" stroke="#333" stroke-width="0.8"/>
<text x="379.0" y="99" font-size="8.6" fill="#333" stroke="#333" stroke-width="0.15" text-anchor="end" transform="rotate(-45 379.0 99)" style="">50</text>
<line x1="417.6" y1="88.6" x2="417.6" y2="91.5" stroke="#333" stroke-width="0.8"/>
<text x="420.5" y="99" font-size="8.6" fill="#333" stroke="#333" stroke-width="0.15" text-anchor="end" transform="rotate(-45 420.5 99)" style="">100</text>
<line x1="459.1" y1="88.6" x2="459.1" y2="91.5" stroke="#333" stroke-width="0.8"/>
<text x="462.0" y="99" font-size="8.6" fill="#333" stroke="#333" stroke-width="0.15" text-anchor="end" transform="rotate(-45 462.0 99)" style="">150</text>
<line x1="500.6" y1="88.6" x2="500.6" y2="91.5" stroke="#333" stroke-width="0.8"/>
<text x="503.5" y="99" font-size="8.6" fill="#333" stroke="#333" stroke-width="0.15" text-anchor="end" transform="rotate(-45 503.5 99)" style="">200</text>
<line x1="509.73" y1="88.6" x2="509.73" y2="91.5" stroke="#333" stroke-width="0.8"/>
<text x="512.63" y="99" font-size="8.6" fill="#333" stroke="#333" stroke-width="0.15" text-anchor="end" transform="rotate(-45 512.63 99)" style="">211</text>
<text x="421.7" y="126.9" font-size="10" fill="#333" stroke="#333" stroke-width="0.15" text-anchor="middle" textLength="42.5" lengthAdjust="spacingAndGlyphs" style="">GCB Cold</text>
<text x="333.8" y="139.3" font-size="10" fill="#333" stroke="#333" stroke-width="0.15" textLength="176.5" lengthAdjust="spacingAndGlyphs" style=""><tspan style="font-style:italic">SOCS1</tspan> : [Somatic mutation rate: 17.9%]</text>
<path d="M324.8 149.2 H327.6 V182.8 H324.8" fill="none" stroke="#333" stroke-width="1"/>
<text x="322.4" y="152.5" font-size="9.2" fill="#333" stroke="#333" stroke-width="0.15" text-anchor="end" style="">5</text>
<text x="322.4" y="186.10000000000002" font-size="9.2" fill="#333" stroke="#333" stroke-width="0.15" text-anchor="end" style="">1</text>
<line x1="337.8" y1="193.2" x2="337.8" y2="183.2" stroke="#cdcdcd" stroke-width="0.9"/>
<line x1="339.5" y1="193.2" x2="339.5" y2="183.2" stroke="#cdcdcd" stroke-width="0.9"/>
<line x1="340.7" y1="193.2" x2="340.7" y2="183.2" stroke="#cdcdcd" stroke-width="0.9"/>
<line x1="342.1" y1="193.2" x2="342.1" y2="183.2" stroke="#cdcdcd" stroke-width="0.9"/>
<line x1="349.0" y1="193.2" x2="349.0" y2="183.2" stroke="#cdcdcd" stroke-width="0.9"/>
<line x1="365.5" y1="193.2" x2="365.5" y2="183.2" stroke="#cdcdcd" stroke-width="0.9"/>
<line x1="381.8" y1="193.2" x2="381.8" y2="183.2" stroke="#cdcdcd" stroke-width="0.9"/>
<line x1="382.7" y1="193.2" x2="382.7" y2="183.2" stroke="#cdcdcd" stroke-width="0.9"/>
<line x1="387.0" y1="193.2" x2="387.0" y2="183.2" stroke="#cdcdcd" stroke-width="0.9"/>
<line x1="390.2" y1="193.2" x2="390.2" y2="183.2" stroke="#cdcdcd" stroke-width="0.9"/>
<line x1="395.7" y1="193.2" x2="395.7" y2="183.2" stroke="#cdcdcd" stroke-width="0.9"/>
<line x1="398.3" y1="193.2" x2="398.3" y2="183.2" stroke="#cdcdcd" stroke-width="0.9"/>
<line x1="400.1" y1="193.2" x2="400.1" y2="183.2" stroke="#cdcdcd" stroke-width="0.9"/>
<line x1="401.8" y1="193.2" x2="401.8" y2="183.2" stroke="#cdcdcd" stroke-width="0.9"/>
<line x1="404.4" y1="193.2" x2="404.4" y2="183.2" stroke="#cdcdcd" stroke-width="0.9"/>
<line x1="411.3" y1="193.2" x2="411.3" y2="183.2" stroke="#cdcdcd" stroke-width="0.9"/>
<line x1="420.4" y1="193.2" x2="420.4" y2="183.2" stroke="#cdcdcd" stroke-width="0.9"/>
<line x1="424.6" y1="193.2" x2="424.6" y2="183.2" stroke="#cdcdcd" stroke-width="0.9"/>
<line x1="426.2" y1="193.2" x2="426.2" y2="183.2" stroke="#cdcdcd" stroke-width="0.9"/>
<line x1="428.1" y1="193.2" x2="428.1" y2="183.2" stroke="#cdcdcd" stroke-width="0.9"/>
<line x1="430.0" y1="193.2" x2="430.0" y2="183.2" stroke="#cdcdcd" stroke-width="0.9"/>
<line x1="437.1" y1="193.2" x2="437.1" y2="183.2" stroke="#cdcdcd" stroke-width="0.9"/>
<line x1="439.0" y1="193.2" x2="439.0" y2="183.2" stroke="#cdcdcd" stroke-width="0.9"/>
<line x1="441.0" y1="193.2" x2="441.0" y2="183.2" stroke="#cdcdcd" stroke-width="0.9"/>
<line x1="451.9" y1="193.2" x2="451.9" y2="183.2" stroke="#cdcdcd" stroke-width="0.9"/>
<line x1="482.3" y1="193.2" x2="482.3" y2="183.2" stroke="#cdcdcd" stroke-width="0.9"/>
<line x1="484.2" y1="193.2" x2="484.2" y2="183.2" stroke="#cdcdcd" stroke-width="0.9"/>
<line x1="485.8" y1="193.2" x2="485.8" y2="183.2" stroke="#cdcdcd" stroke-width="0.9"/>
<line x1="489.6" y1="193.2" x2="489.6" y2="183.2" stroke="#cdcdcd" stroke-width="0.9"/>
<line x1="502.5" y1="193.2" x2="502.5" y2="183.2" stroke="#cdcdcd" stroke-width="0.9"/>
<line x1="503.8" y1="193.2" x2="503.8" y2="183.2" stroke="#cdcdcd" stroke-width="0.9"/>
<line x1="506.3" y1="193.2" x2="506.3" y2="183.2" stroke="#cdcdcd" stroke-width="0.9"/>
<line x1="458.8" y1="193.2" x2="458.8" y2="183.2" stroke="#cdcdcd" stroke-width="0.9"/>
<line x1="460.8" y1="193.2" x2="460.8" y2="183.2" stroke="#cdcdcd" stroke-width="0.9"/>
<line x1="336.9" y1="193.2" x2="336.9" y2="174.8" stroke="#cdcdcd" stroke-width="0.9"/>
<line x1="394.4" y1="193.2" x2="394.4" y2="174.8" stroke="#cdcdcd" stroke-width="0.9"/>
<line x1="397.1" y1="193.2" x2="397.1" y2="174.8" stroke="#cdcdcd" stroke-width="0.9"/>
<line x1="416.0" y1="193.2" x2="416.0" y2="174.8" stroke="#cdcdcd" stroke-width="0.9"/>
<line x1="505.4" y1="193.2" x2="505.4" y2="174.8" stroke="#cdcdcd" stroke-width="0.9"/>
<line x1="336.9" y1="193.2" x2="336.9" y2="183.2" stroke="#cdcdcd" stroke-width="0.9"/>
<line x1="416.5" y1="193.2" x2="416.5" y2="183.2" stroke="#cdcdcd" stroke-width="0.9"/>
<ellipse cx="337.8" cy="183.2" rx="1.35" ry="0.85" fill="#c4d8b4" stroke="#a8a8a8" stroke-width="0.35"/>
<ellipse cx="339.5" cy="183.2" rx="1.35" ry="0.85" fill="#c4d8b4" stroke="#a8a8a8" stroke-width="0.35"/>
<ellipse cx="340.7" cy="183.2" rx="1.35" ry="0.85" fill="#c4d8b4" stroke="#a8a8a8" stroke-width="0.35"/>
<ellipse cx="342.1" cy="183.2" rx="1.35" ry="0.85" fill="#c4d8b4" stroke="#a8a8a8" stroke-width="0.35"/>
<ellipse cx="349.0" cy="183.2" rx="1.35" ry="0.85" fill="#c4d8b4" stroke="#a8a8a8" stroke-width="0.35"/>
<ellipse cx="365.5" cy="183.2" rx="1.35" ry="0.85" fill="#c4d8b4" stroke="#a8a8a8" stroke-width="0.35"/>
<ellipse cx="381.8" cy="183.2" rx="1.35" ry="0.85" fill="#c4d8b4" stroke="#a8a8a8" stroke-width="0.35"/>
<ellipse cx="382.7" cy="183.2" rx="1.35" ry="0.85" fill="#c4d8b4" stroke="#a8a8a8" stroke-width="0.35"/>
<ellipse cx="387.0" cy="183.2" rx="1.35" ry="0.85" fill="#c4d8b4" stroke="#a8a8a8" stroke-width="0.35"/>
<ellipse cx="390.2" cy="183.2" rx="1.35" ry="0.85" fill="#c4d8b4" stroke="#a8a8a8" stroke-width="0.35"/>
<ellipse cx="395.7" cy="183.2" rx="1.35" ry="0.85" fill="#c4d8b4" stroke="#a8a8a8" stroke-width="0.35"/>
<ellipse cx="398.3" cy="183.2" rx="1.35" ry="0.85" fill="#c4d8b4" stroke="#a8a8a8" stroke-width="0.35"/>
<ellipse cx="400.1" cy="183.2" rx="1.35" ry="0.85" fill="#c4d8b4" stroke="#a8a8a8" stroke-width="0.35"/>
<ellipse cx="401.8" cy="183.2" rx="1.35" ry="0.85" fill="#c4d8b4" stroke="#a8a8a8" stroke-width="0.35"/>
<ellipse cx="404.4" cy="183.2" rx="1.35" ry="0.85" fill="#c4d8b4" stroke="#a8a8a8" stroke-width="0.35"/>
<ellipse cx="411.3" cy="183.2" rx="1.35" ry="0.85" fill="#c4d8b4" stroke="#a8a8a8" stroke-width="0.35"/>
<ellipse cx="420.4" cy="183.2" rx="1.35" ry="0.85" fill="#c4d8b4" stroke="#a8a8a8" stroke-width="0.35"/>
<ellipse cx="424.6" cy="183.2" rx="1.35" ry="0.85" fill="#c4d8b4" stroke="#a8a8a8" stroke-width="0.35"/>
<ellipse cx="426.2" cy="183.2" rx="1.35" ry="0.85" fill="#c4d8b4" stroke="#a8a8a8" stroke-width="0.35"/>
<ellipse cx="428.1" cy="183.2" rx="1.35" ry="0.85" fill="#c4d8b4" stroke="#a8a8a8" stroke-width="0.35"/>
<ellipse cx="430.0" cy="183.2" rx="1.35" ry="0.85" fill="#c4d8b4" stroke="#a8a8a8" stroke-width="0.35"/>
<ellipse cx="437.1" cy="183.2" rx="1.35" ry="0.85" fill="#c4d8b4" stroke="#a8a8a8" stroke-width="0.35"/>
<ellipse cx="439.0" cy="183.2" rx="1.35" ry="0.85" fill="#c4d8b4" stroke="#a8a8a8" stroke-width="0.35"/>
<ellipse cx="441.0" cy="183.2" rx="1.35" ry="0.85" fill="#c4d8b4" stroke="#a8a8a8" stroke-width="0.35"/>
<ellipse cx="451.9" cy="183.2" rx="1.35" ry="0.85" fill="#c4d8b4" stroke="#a8a8a8" stroke-width="0.35"/>
<ellipse cx="482.3" cy="183.2" rx="1.35" ry="0.85" fill="#c4d8b4" stroke="#a8a8a8" stroke-width="0.35"/>
<ellipse cx="484.2" cy="183.2" rx="1.35" ry="0.85" fill="#c4d8b4" stroke="#a8a8a8" stroke-width="0.35"/>
<ellipse cx="485.8" cy="183.2" rx="1.35" ry="0.85" fill="#c4d8b4" stroke="#a8a8a8" stroke-width="0.35"/>
<ellipse cx="489.6" cy="183.2" rx="1.35" ry="0.85" fill="#c4d8b4" stroke="#a8a8a8" stroke-width="0.35"/>
<ellipse cx="502.5" cy="183.2" rx="1.35" ry="0.85" fill="#c4d8b4" stroke="#a8a8a8" stroke-width="0.35"/>
<ellipse cx="503.8" cy="183.2" rx="1.35" ry="0.85" fill="#c4d8b4" stroke="#a8a8a8" stroke-width="0.35"/>
<ellipse cx="506.3" cy="183.2" rx="1.35" ry="0.85" fill="#c4d8b4" stroke="#a8a8a8" stroke-width="0.35"/>
<ellipse cx="458.8" cy="183.2" rx="1.35" ry="0.85" fill="#a8d4e8" stroke="#a8a8a8" stroke-width="0.35"/>
<ellipse cx="460.8" cy="183.2" rx="1.35" ry="0.85" fill="#a8d4e8" stroke="#a8a8a8" stroke-width="0.35"/>
<ellipse cx="336.9" cy="174.8" rx="1.35" ry="0.85" fill="#c4d8b4" stroke="#a8a8a8" stroke-width="0.35"/>
<ellipse cx="394.4" cy="174.8" rx="1.35" ry="0.85" fill="#c4d8b4" stroke="#a8a8a8" stroke-width="0.35"/>
<ellipse cx="397.1" cy="174.8" rx="1.35" ry="0.85" fill="#c4d8b4" stroke="#a8a8a8" stroke-width="0.35"/>
<ellipse cx="416.0" cy="174.8" rx="1.35" ry="0.85" fill="#c4d8b4" stroke="#a8a8a8" stroke-width="0.35"/>
<ellipse cx="505.4" cy="174.8" rx="1.35" ry="0.85" fill="#c4d8b4" stroke="#a8a8a8" stroke-width="0.35"/>
<ellipse cx="336.9" cy="183.2" rx="1.35" ry="0.85" fill="#c4d8b4" stroke="#a8a8a8" stroke-width="0.35"/>
<ellipse cx="416.5" cy="183.2" rx="1.35" ry="0.85" fill="#c4d8b4" stroke="#a8a8a8" stroke-width="0.35"/>
<rect x="334.7" y="193.2" width="174.3" height="5.8" fill="#d2d2d8" stroke="#555" stroke-width="0.7"/>
<rect x="378.7" y="192.9" width="11.6" height="6.4" fill="#45a5da"/>
<rect x="390.3" y="192.5" width="80.1" height="7" fill="#c20c2c"/>
<rect x="470.4" y="192.7" width="1.6" height="6.6" fill="#f4f0ea"/>
<rect x="472" y="192.7" width="37" height="6.6" fill="#e08e30"/>
<text x="384.5" y="198.60000000000002" font-size="7.2" fill="#14407a" stroke="#14407a" stroke-width="0.08" text-anchor="middle" textLength="11" lengthAdjust="spacingAndGlyphs" style="">KIR</text>
<text x="430.7" y="198.4" font-size="7.4" fill="#f4c8cc" stroke="#f4c8cc" stroke-width="0.08" text-anchor="middle" textLength="13.6" lengthAdjust="spacingAndGlyphs" style="">SH2</text>
<text x="489.7" y="198.4" font-size="7.2" fill="#fff0d8" stroke="#fff0d8" stroke-width="0.08" text-anchor="middle" textLength="37.5" lengthAdjust="spacingAndGlyphs" style="">SOCS Box</text>
<line x1="332" y1="200.8" x2="510.5" y2="200.8" stroke="#2a2a35" stroke-width="1"/>
<line x1="334.6" y1="200.8" x2="334.6" y2="203.7" stroke="#333" stroke-width="0.8"/>
<text x="337.5" y="211.2" font-size="8.6" fill="#333" stroke="#333" stroke-width="0.15" text-anchor="end" transform="rotate(-45 337.5 211.2)" style="">0</text>
<line x1="376.1" y1="200.8" x2="376.1" y2="203.7" stroke="#333" stroke-width="0.8"/>
<text x="379.0" y="211.2" font-size="8.6" fill="#333" stroke="#333" stroke-width="0.15" text-anchor="end" transform="rotate(-45 379.0 211.2)" style="">50</text>
<line x1="417.6" y1="200.8" x2="417.6" y2="203.7" stroke="#333" stroke-width="0.8"/>
<text x="420.5" y="211.2" font-size="8.6" fill="#333" stroke="#333" stroke-width="0.15" text-anchor="end" transform="rotate(-45 420.5 211.2)" style="">100</text>
<line x1="459.1" y1="200.8" x2="459.1" y2="203.7" stroke="#333" stroke-width="0.8"/>
<text x="462.0" y="211.2" font-size="8.6" fill="#333" stroke="#333" stroke-width="0.15" text-anchor="end" transform="rotate(-45 462.0 211.2)" style="">150</text>
<line x1="500.6" y1="200.8" x2="500.6" y2="203.7" stroke="#333" stroke-width="0.8"/>
<text x="503.5" y="211.2" font-size="8.6" fill="#333" stroke="#333" stroke-width="0.15" text-anchor="end" transform="rotate(-45 503.5 211.2)" style="">200</text>
<line x1="509.73" y1="200.8" x2="509.73" y2="203.7" stroke="#333" stroke-width="0.8"/>
<text x="512.63" y="211.2" font-size="8.6" fill="#333" stroke="#333" stroke-width="0.15" text-anchor="end" transform="rotate(-45 512.63 211.2)" style="">211</text>
<circle cx="352.1" cy="229.0" r="2.3" fill="#3a9a3a"/>
<text x="357.40000000000003" y="232.0" font-size="8.9" fill="#333" stroke="#333" stroke-width="0.15" textLength="65" lengthAdjust="spacingAndGlyphs" style="">Missense Mutation</text>
<circle cx="352.1" cy="240.7" r="2.3" fill="#e8b830"/>
<text x="357.40000000000003" y="243.7" font-size="8.9" fill="#333" stroke="#333" stroke-width="0.15" textLength="44" lengthAdjust="spacingAndGlyphs" style="">In Frame Del</text>
<circle cx="352.1" cy="252.2" r="2.3" fill="#8a6a2a"/>
<text x="357.40000000000003" y="255.2" font-size="8.9" fill="#333" stroke="#333" stroke-width="0.15" textLength="67" lengthAdjust="spacingAndGlyphs" style="">Nonsense Mutation</text>
<circle cx="433.8" cy="229.0" r="2.3" fill="#3aa8c8"/>
<text x="439.1" y="232.0" font-size="8.9" fill="#333" stroke="#333" stroke-width="0.15" textLength="53.5" lengthAdjust="spacingAndGlyphs" style="">Frame Shift Del</text>
<circle cx="433.8" cy="240.7" r="2.3" fill="#8888c0"/>
<text x="439.1" y="243.7" font-size="8.9" fill="#333" stroke="#333" stroke-width="0.15" textLength="51" lengthAdjust="spacingAndGlyphs" style="">Frame Shift Ins</text>
<circle cx="433.8" cy="252.2" r="2.3" fill="#b0101a"/>
<text x="439.1" y="255.2" font-size="8.9" fill="#333" stroke="#333" stroke-width="0.15" textLength="43" lengthAdjust="spacingAndGlyphs" style="">In Frame Ins</text>
<text x="6.6" y="213.6" font-size="12.5" fill="#111" style="font-weight:bold;">C</text>
<line x1="31.7" y1="227" x2="31.7" y2="343.2" stroke="#333" stroke-width="1"/>
<line x1="31.2" y1="343.2" x2="276.2" y2="343.2" stroke="#333" stroke-width="1"/>
<line x1="29" y1="337.2" x2="31.7" y2="337.2" stroke="#333" stroke-width="0.9"/>
<text x="26" y="339.9" font-size="7.8" fill="#333" stroke="#333" stroke-width="0.08" text-anchor="end" style="">0</text>
<line x1="29" y1="301.34999999999997" x2="31.7" y2="301.34999999999997" stroke="#333" stroke-width="0.9"/>
<text x="26" y="304.04999999999995" font-size="7.8" fill="#333" stroke="#333" stroke-width="0.08" text-anchor="end" style="">1</text>
<line x1="29" y1="265.5" x2="31.7" y2="265.5" stroke="#333" stroke-width="0.9"/>
<text x="26" y="268.2" font-size="7.8" fill="#333" stroke="#333" stroke-width="0.08" text-anchor="end" style="">2</text>
<line x1="29" y1="229.64999999999998" x2="31.7" y2="229.64999999999998" stroke="#333" stroke-width="0.9"/>
<text x="26" y="232.34999999999997" font-size="7.8" fill="#333" stroke="#333" stroke-width="0.08" text-anchor="end" style="">3</text>
<text x="13.7" y="302.4" font-size="7.8" fill="#333" stroke="#333" stroke-width="0.08" textLength="36" lengthAdjust="spacingAndGlyphs" transform="rotate(-90 13.7 302.4)" style="">Abs. Prop.</text>
<line x1="43.85" y1="305.8" x2="43.85" y2="337.5" stroke="#3a3a3a" stroke-width="0.85"/>
<rect x="39.1" y="320.2" width="9.5" height="10.8" fill="#c6062c" stroke="#6a0a1a" stroke-width="0.4"/>
<line x1="39.1" y1="326.3" x2="48.6" y2="326.3" stroke="#6a0a1a" stroke-width="0.9"/>
<rect x="43.1" y="284.9" width="1.6" height="1.4" fill="#111"/>
<rect x="43.1" y="298.3" width="1.6" height="1.4" fill="#111"/>
<rect x="43.1" y="300.3" width="1.6" height="1.4" fill="#111"/>
<rect x="43.1" y="302.3" width="1.6" height="1.4" fill="#111"/>
<line x1="55.25" y1="296" x2="55.25" y2="337.5" stroke="#3a3a3a" stroke-width="0.85"/>
<rect x="50.5" y="321.7" width="9.5" height="11.0" fill="#1d4f8a" stroke="#0e2a4d" stroke-width="0.4"/>
<line x1="50.5" y1="328" x2="60.0" y2="328" stroke="#0e2a4d" stroke-width="0.9"/>
<rect x="54.5" y="295.3" width="1.6" height="1.4" fill="#111"/>
<rect x="54.5" y="293.8" width="1.6" height="1.4" fill="#111"/>
<rect x="54.5" y="292.3" width="1.6" height="1.4" fill="#111"/>
<rect x="54.5" y="290.6" width="1.6" height="1.4" fill="#111"/>
<rect x="54.5" y="289.0" width="1.6" height="1.4" fill="#111"/>
<rect x="54.5" y="287.2" width="1.6" height="1.4" fill="#111"/>
<rect x="54.5" y="285.3" width="1.6" height="1.4" fill="#111"/>
<rect x="54.5" y="283.3" width="1.6" height="1.4" fill="#111"/>
<rect x="54.5" y="281.0" width="1.6" height="1.4" fill="#111"/>
<rect x="54.5" y="278.4" width="1.6" height="1.4" fill="#111"/>
<rect x="54.5" y="275.3" width="1.6" height="1.4" fill="#111"/>
<rect x="54.5" y="272.1" width="1.6" height="1.4" fill="#111"/>
<rect x="54.5" y="268.2" width="1.6" height="1.4" fill="#111"/>
<rect x="54.5" y="263.7" width="1.6" height="1.4" fill="#111"/>
<rect x="54.5" y="258.5" width="1.6" height="1.4" fill="#111"/>
<line x1="49.6" y1="343.2" x2="49.6" y2="346" stroke="#333" stroke-width="0.8"/>
<line x1="73.65" y1="278.8" x2="73.65" y2="331.7" stroke="#3a3a3a" stroke-width="0.85"/>
<rect x="68.9" y="303.3" width="9.5" height="18.8" fill="#c6062c" stroke="#6a0a1a" stroke-width="0.4"/>
<line x1="68.9" y1="312.1" x2="78.4" y2="312.1" stroke="#6a0a1a" stroke-width="0.9"/>
<rect x="72.9" y="258.0" width="1.6" height="1.4" fill="#111"/>
<rect x="72.9" y="261.3" width="1.6" height="1.4" fill="#111"/>
<rect x="72.9" y="266.3" width="1.6" height="1.4" fill="#111"/>
<rect x="72.9" y="271.3" width="1.6" height="1.4" fill="#111"/>
<line x1="85.05000000000001" y1="275" x2="85.05000000000001" y2="335.6" stroke="#3a3a3a" stroke-width="0.85"/>
<rect x="80.3" y="304.2" width="9.5" height="19.3" fill="#1d4f8a" stroke="#0e2a4d" stroke-width="0.4"/>
<line x1="80.30000000000001" y1="314.4" x2="89.80000000000001" y2="314.4" stroke="#0e2a4d" stroke-width="0.9"/>
<rect x="84.3" y="274.3" width="1.6" height="1.4" fill="#111"/>
<rect x="84.3" y="272.8" width="1.6" height="1.4" fill="#111"/>
<rect x="84.3" y="271.3" width="1.6" height="1.4" fill="#111"/>
<rect x="84.3" y="269.7" width="1.6" height="1.4" fill="#111"/>
<rect x="84.3" y="268.0" width="1.6" height="1.4" fill="#111"/>
<rect x="84.3" y="266.2" width="1.6" height="1.4" fill="#111"/>
<rect x="84.3" y="264.3" width="1.6" height="1.4" fill="#111"/>
<rect x="84.3" y="262.4" width="1.6" height="1.4" fill="#111"/>
<rect x="84.3" y="260.4" width="1.6" height="1.4" fill="#111"/>
<rect x="84.3" y="258.1" width="1.6" height="1.4" fill="#111"/>
<rect x="84.3" y="255.6" width="1.6" height="1.4" fill="#111"/>
<rect x="84.3" y="252.8" width="1.6" height="1.4" fill="#111"/>
<rect x="84.3" y="249.6" width="1.6" height="1.4" fill="#111"/>
<rect x="84.3" y="246.0" width="1.6" height="1.4" fill="#111"/>
<rect x="84.3" y="241.3" width="1.6" height="1.4" fill="#111"/>
<rect x="84.3" y="235.6" width="1.6" height="1.4" fill="#111"/>
<rect x="84.3" y="234.3" width="1.6" height="1.4" fill="#111"/>
<line x1="79.4" y1="343.2" x2="79.4" y2="346" stroke="#333" stroke-width="0.8"/>
<line x1="103.45" y1="323" x2="103.45" y2="337.5" stroke="#3a3a3a" stroke-width="0.85"/>
<rect x="98.7" y="331.2" width="9.5" height="5.8" fill="#c6062c" stroke="#6a0a1a" stroke-width="0.4"/>
<line x1="98.7" y1="334.2" x2="108.2" y2="334.2" stroke="#6a0a1a" stroke-width="0.9"/>
<rect x="102.7" y="298.3" width="1.6" height="1.4" fill="#111"/>
<rect x="102.7" y="308.3" width="1.6" height="1.4" fill="#111"/>
<rect x="102.7" y="314.3" width="1.6" height="1.4" fill="#111"/>
<rect x="102.7" y="318.3" width="1.6" height="1.4" fill="#111"/>
<line x1="114.85000000000001" y1="325" x2="114.85000000000001" y2="337.8" stroke="#3a3a3a" stroke-width="0.85"/>
<rect x="110.1" y="333.3" width="9.5" height="4.2" fill="#1d4f8a" stroke="#0e2a4d" stroke-width="0.4"/>
<line x1="110.10000000000001" y1="335.5" x2="119.60000000000001" y2="335.5" stroke="#0e2a4d" stroke-width="0.9"/>
<rect x="114.1" y="324.3" width="1.6" height="1.4" fill="#111"/>
<rect x="114.1" y="322.8" width="1.6" height="1.4" fill="#111"/>
<rect x="114.1" y="321.2" width="1.6" height="1.4" fill="#111"/>
<rect x="114.1" y="319.5" width="1.6" height="1.4" fill="#111"/>
<rect x="114.1" y="317.4" width="1.6" height="1.4" fill="#111"/>
<rect x="114.1" y="315.0" width="1.6" height="1.4" fill="#111"/>
<rect x="114.1" y="312.0" width="1.6" height="1.4" fill="#111"/>
<rect x="114.1" y="307.4" width="1.6" height="1.4" fill="#111"/>
<rect x="114.1" y="305.3" width="1.6" height="1.4" fill="#111"/>
<line x1="109.2" y1="343.2" x2="109.2" y2="346" stroke="#333" stroke-width="0.8"/>
<line x1="133.25" y1="325" x2="133.25" y2="337.2" stroke="#3a3a3a" stroke-width="0.85"/>
<rect x="128.5" y="331.3" width="9.5" height="4.5" fill="#c6062c" stroke="#6a0a1a" stroke-width="0.4"/>
<line x1="128.5" y1="333.5" x2="138.0" y2="333.5" stroke="#6a0a1a" stroke-width="0.9"/>
<rect x="132.4" y="315.8" width="1.6" height="1.4" fill="#111"/>
<rect x="132.4" y="317.8" width="1.6" height="1.4" fill="#111"/>
<rect x="132.4" y="320.3" width="1.6" height="1.4" fill="#111"/>
<line x1="144.65" y1="311.7" x2="144.65" y2="337.5" stroke="#3a3a3a" stroke-width="0.85"/>
<rect x="139.9" y="332" width="9.5" height="4.3" fill="#1d4f8a" stroke="#0e2a4d" stroke-width="0.4"/>
<line x1="139.9" y1="334" x2="149.4" y2="334" stroke="#0e2a4d" stroke-width="0.9"/>
<rect x="143.8" y="311.0" width="1.6" height="1.4" fill="#111"/>
<rect x="143.8" y="309.5" width="1.6" height="1.4" fill="#111"/>
<rect x="143.8" y="307.8" width="1.6" height="1.4" fill="#111"/>
<rect x="143.8" y="305.9" width="1.6" height="1.4" fill="#111"/>
<rect x="143.8" y="303.6" width="1.6" height="1.4" fill="#111"/>
<rect x="143.8" y="300.2" width="1.6" height="1.4" fill="#111"/>
<rect x="143.8" y="297.6" width="1.6" height="1.4" fill="#111"/>
<line x1="139.0" y1="343.2" x2="139.0" y2="346" stroke="#333" stroke-width="0.8"/>
<line x1="163.05" y1="285.8" x2="163.05" y2="336.7" stroke="#3a3a3a" stroke-width="0.85"/>
<rect x="158.3" y="311.2" width="9.5" height="16.8" fill="#c6062c" stroke="#6a0a1a" stroke-width="0.4"/>
<line x1="158.3" y1="320.8" x2="167.8" y2="320.8" stroke="#6a0a1a" stroke-width="0.9"/>
<rect x="162.2" y="280.8" width="1.6" height="1.4" fill="#111"/>
<line x1="174.45000000000002" y1="291.5" x2="174.45000000000002" y2="336.7" stroke="#3a3a3a" stroke-width="0.85"/>
<rect x="169.7" y="313.3" width="9.5" height="15.7" fill="#1d4f8a" stroke="#0e2a4d" stroke-width="0.4"/>
<line x1="169.70000000000002" y1="322" x2="179.20000000000002" y2="322" stroke="#0e2a4d" stroke-width="0.9"/>
<rect x="173.7" y="290.8" width="1.6" height="1.4" fill="#111"/>
<rect x="173.7" y="289.3" width="1.6" height="1.4" fill="#111"/>
<rect x="173.7" y="287.7" width="1.6" height="1.4" fill="#111"/>
<rect x="173.7" y="285.9" width="1.6" height="1.4" fill="#111"/>
<rect x="173.7" y="284.0" width="1.6" height="1.4" fill="#111"/>
<rect x="173.7" y="281.4" width="1.6" height="1.4" fill="#111"/>
<rect x="173.7" y="278.1" width="1.6" height="1.4" fill="#111"/>
<rect x="173.7" y="274.3" width="1.6" height="1.4" fill="#111"/>
<rect x="173.7" y="271.3" width="1.6" height="1.4" fill="#111"/>
<line x1="168.8" y1="343.2" x2="168.8" y2="346" stroke="#333" stroke-width="0.8"/>
<line x1="192.85" y1="268" x2="192.85" y2="333" stroke="#3a3a3a" stroke-width="0.85"/>
<rect x="188.1" y="297" width="9.5" height="21.0" fill="#c6062c" stroke="#6a0a1a" stroke-width="0.4"/>
<line x1="188.1" y1="307.9" x2="197.6" y2="307.9" stroke="#6a0a1a" stroke-width="0.9"/>
<line x1="204.25" y1="280" x2="204.25" y2="336.7" stroke="#3a3a3a" stroke-width="0.85"/>
<rect x="199.5" y="302.7" width="9.5" height="19.3" fill="#1d4f8a" stroke="#0e2a4d" stroke-width="0.4"/>
<line x1="199.5" y1="314.2" x2="209.0" y2="314.2" stroke="#0e2a4d" stroke-width="0.9"/>
<rect x="203.4" y="279.3" width="1.6" height="1.4" fill="#111"/>
<rect x="203.4" y="277.8" width="1.6" height="1.4" fill="#111"/>
<rect x="203.4" y="276.2" width="1.6" height="1.4" fill="#111"/>
<rect x="203.4" y="274.5" width="1.6" height="1.4" fill="#111"/>
<rect x="203.4" y="272.7" width="1.6" height="1.4" fill="#111"/>
<rect x="203.4" y="270.7" width="1.6" height="1.4" fill="#111"/>
<rect x="203.4" y="268.3" width="1.6" height="1.4" fill="#111"/>
<rect x="203.4" y="265.2" width="1.6" height="1.4" fill="#111"/>
<rect x="203.4" y="261.6" width="1.6" height="1.4" fill="#111"/>
<rect x="203.4" y="257.0" width="1.6" height="1.4" fill="#111"/>
<rect x="203.4" y="255.3" width="1.6" height="1.4" fill="#111"/>
<line x1="198.6" y1="343.2" x2="198.6" y2="346" stroke="#333" stroke-width="0.8"/>
<line x1="222.65" y1="325" x2="222.65" y2="337.5" stroke="#3a3a3a" stroke-width="0.85"/>
<rect x="217.9" y="332" width="9.5" height="4.2" fill="#c6062c" stroke="#6a0a1a" stroke-width="0.4"/>
<line x1="217.9" y1="334" x2="227.4" y2="334" stroke="#6a0a1a" stroke-width="0.9"/>
<rect x="221.8" y="317.3" width="1.6" height="1.4" fill="#111"/>
<rect x="221.8" y="319.8" width="1.6" height="1.4" fill="#111"/>
<line x1="234.05" y1="320" x2="234.05" y2="337.5" stroke="#3a3a3a" stroke-width="0.85"/>
<rect x="229.3" y="330.8" width="9.5" height="4.9" fill="#1d4f8a" stroke="#0e2a4d" stroke-width="0.4"/>
<line x1="229.3" y1="333.5" x2="238.8" y2="333.5" stroke="#0e2a4d" stroke-width="0.9"/>
<rect x="233.2" y="319.3" width="1.6" height="1.4" fill="#111"/>
<rect x="233.2" y="317.8" width="1.6" height="1.4" fill="#111"/>
<rect x="233.2" y="316.2" width="1.6" height="1.4" fill="#111"/>
<rect x="233.2" y="314.6" width="1.6" height="1.4" fill="#111"/>
<rect x="233.2" y="312.8" width="1.6" height="1.4" fill="#111"/>
<rect x="233.2" y="310.7" width="1.6" height="1.4" fill="#111"/>
<rect x="233.2" y="308.3" width="1.6" height="1.4" fill="#111"/>
<rect x="233.2" y="305.0" width="1.6" height="1.4" fill="#111"/>
<rect x="233.2" y="301.0" width="1.6" height="1.4" fill="#111"/>
<rect x="233.2" y="297.5" width="1.6" height="1.4" fill="#111"/>
<line x1="228.4" y1="343.2" x2="228.4" y2="346" stroke="#333" stroke-width="0.8"/>
<line x1="252.45" y1="336.2" x2="252.45" y2="337.9" stroke="#3a3a3a" stroke-width="0.85"/>
<rect x="247.7" y="336.2" width="9.5" height="1.5" fill="#c6062c" stroke="#6a0a1a" stroke-width="0.4"/>
<line x1="247.7" y1="337" x2="257.2" y2="337" stroke="#6a0a1a" stroke-width="0.9"/>
<rect x="251.6" y="324.7" width="1.6" height="1.4" fill="#111"/>
<line x1="263.84999999999997" y1="336.5" x2="263.84999999999997" y2="337.9" stroke="#3a3a3a" stroke-width="0.85"/>
<rect x="259.1" y="336.5" width="9.5" height="1.2" fill="#1d4f8a" stroke="#0e2a4d" stroke-width="0.4"/>
<line x1="259.09999999999997" y1="337.1" x2="268.59999999999997" y2="337.1" stroke="#0e2a4d" stroke-width="0.9"/>
<rect x="263.0" y="332.3" width="1.6" height="1.4" fill="#111"/>
<line x1="258.2" y1="343.2" x2="258.2" y2="346" stroke="#333" stroke-width="0.8"/>
<text x="52.4" y="352.6" font-size="8.4" fill="#333" stroke="#333" stroke-width="0.08" text-anchor="end" transform="rotate(-45 52.4 352.6)" style="">CD8<tspan dy="-2.5" font-size="4.5">+</tspan><tspan dy="2.5"> T cells</tspan></text>
<text x="82.2" y="352.6" font-size="8.4" fill="#333" stroke="#333" stroke-width="0.08" text-anchor="end" transform="rotate(-45 82.2 352.6)" style="">CD4<tspan dy="-2.5" font-size="4.5">+</tspan><tspan dy="2.5"> T cells</tspan></text>
<text x="112.0" y="352.6" font-size="8.4" fill="#333" stroke="#333" stroke-width="0.08" text-anchor="end" transform="rotate(-45 112.0 352.6)" style="">T<tspan dy="2" font-size="4.5">reg</tspan><tspan dy="-2"> cells</tspan></text>
<text x="141.8" y="352.6" font-size="8.4" fill="#333" stroke="#333" stroke-width="0.08" text-anchor="end" transform="rotate(-45 141.8 352.6)" style="">T<tspan dy="2" font-size="4.5">fh</tspan><tspan dy="-2"> cells</tspan></text>
<text x="171.60000000000002" y="352.6" font-size="8.4" fill="#333" stroke="#333" stroke-width="0.08" text-anchor="end" transform="rotate(-45 171.60000000000002 352.6)" style="">Memory CD4<tspan dy="-2.5" font-size="4.5">+</tspan><tspan dy="2.5"> T cells</tspan></text>
<text x="201.4" y="352.6" font-size="8.4" fill="#333" stroke="#333" stroke-width="0.08" text-anchor="end" transform="rotate(-45 201.4 352.6)" style="">Macrophages</text>
<text x="231.20000000000002" y="352.6" font-size="8.4" fill="#333" stroke="#333" stroke-width="0.08" text-anchor="end" transform="rotate(-45 231.20000000000002 352.6)" style="">NK cells</text>
<text x="261.0" y="352.6" font-size="8.4" fill="#333" stroke="#333" stroke-width="0.08" text-anchor="end" transform="rotate(-45 261.0 352.6)" style="">Dendritic cells</text>
<path d="M42.3 229.4 H57.3 M102 229.2 H117.5 M191 229.2 H206" stroke="#555" stroke-width="0.8"/>
<text x="49.4" y="226.6" font-size="9" fill="#333" stroke="#333" stroke-width="0.15" text-anchor="middle" textLength="20.4" lengthAdjust="spacingAndGlyphs" style="">0.039</text>
<text x="109.8" y="226.6" font-size="9" fill="#333" stroke="#333" stroke-width="0.15" text-anchor="middle" textLength="29.4" lengthAdjust="spacingAndGlyphs" style="">0.00028</text>
<text x="198.3" y="226.6" font-size="9" fill="#333" stroke="#333" stroke-width="0.15" text-anchor="middle" textLength="24" lengthAdjust="spacingAndGlyphs" style="">0.0052</text>
<line x1="227.5" y1="230.2" x2="227.5" y2="237.79999999999998" stroke="#555" stroke-width="0.8"/>
<rect x="224.6" y="231.79999999999998" width="5.8" height="4.6" fill="#c6062c"/>
<line x1="224.6" y1="234.1" x2="230.4" y2="234.1" stroke="#6a0a1a" stroke-width="0.7"/>
<text x="233.8" y="237.1" font-size="8.2" fill="#333" stroke="#333" stroke-width="0.08" textLength="39.5" lengthAdjust="spacingAndGlyphs" style=""><tspan style="font-style:italic">SOCS1</tspan> LoF</text>
<line x1="227.5" y1="244.2" x2="227.5" y2="251.79999999999998" stroke="#555" stroke-width="0.8"/>
<rect x="224.6" y="245.79999999999998" width="5.8" height="4.6" fill="#1d4f8a"/>
<line x1="224.6" y1="248.1" x2="230.4" y2="248.1" stroke="#0e2a4d" stroke-width="0.7"/>
<text x="233.8" y="249.6" font-size="8.2" fill="#333" stroke="#333" stroke-width="0.08" textLength="37" lengthAdjust="spacingAndGlyphs" style=""><tspan style="font-style:italic">SOCS1</tspan> WT</text>
<text x="317.2" y="281.8" font-size="12.5" fill="#111" style="font-weight:bold;">D</text>
<text x="425.9" y="283" font-size="10.2" fill="#333" stroke="#333" stroke-width="0.15" text-anchor="middle" textLength="64.6" lengthAdjust="spacingAndGlyphs" style="">IFN&#947; Response</text>
<rect x="349" y="367.8" width="9.5" height="26.6" fill="#383838"/>
<rect x="358.5" y="367.8" width="8.7" height="26.6" fill="#5a5a5a"/>
<rect x="360" y="367.8" width="0.9" height="26.6" fill="#404040"/>
<rect x="361.6" y="367.8" width="0.7" height="26.6" fill="#7a7a7a"/>
<rect x="363.2" y="367.8" width="0.8" height="26.6" fill="#444"/>
<rect x="365.5" y="367.8" width="0.8" height="26.6" fill="#444"/>
<rect x="368" y="367.8" width="4" height="26.6" fill="#555"/>
<rect x="373" y="367.8" width="4" height="26.6" fill="#3a3a3a"/>
<rect x="377" y="367.8" width="4" height="26.6" fill="#9a9a9a"/>
<rect x="378.8" y="367.8" width="0.7" height="26.6" fill="#666"/>
<rect x="381" y="367.8" width="3" height="26.6" fill="#444"/>
<rect x="384" y="367.8" width="2.5" height="26.6" fill="#777"/>
<rect x="388" y="367.8" width="1" height="26.6" fill="#333"/>
<rect x="392.3" y="367.8" width="1.0" height="26.6" fill="#333"/>
<rect x="393.6" y="367.8" width="1.4" height="26.6" fill="#777"/>
<rect x="395.2" y="367.8" width="4.0" height="26.6" fill="#8a8a8a"/>
<rect x="398.6" y="367.8" width="0.7" height="26.6" fill="#333"/>
<rect x="403.8" y="367.8" width="3.5" height="26.6" fill="#777"/>
<rect x="408.5" y="367.8" width="0.9" height="26.6" fill="#bbb"/>
<rect x="411.3" y="367.8" width="2.9" height="26.6" fill="#3a3a3a"/>
<rect x="415" y="367.8" width="1.5" height="26.6" fill="#bbb"/>
<rect x="418" y="367.8" width="0.9" height="26.6" fill="#333"/>
<rect x="421.5" y="367.8" width="0.8" height="26.6" fill="#999"/>
<rect x="424.2" y="367.8" width="0.8" height="26.6" fill="#aaa"/>
<rect x="426.3" y="367.8" width="1.5" height="26.6" fill="#777"/>
<rect x="430.2" y="367.8" width="0.9" height="26.6" fill="#333"/>
<rect x="434" y="367.8" width="0.8" height="26.6" fill="#aaa"/>
<rect x="437.9" y="367.8" width="0.8" height="26.6" fill="#aaa"/>
<rect x="440.8" y="367.8" width="0.8" height="26.6" fill="#999"/>
<rect x="443.6" y="367.8" width="0.8" height="26.6" fill="#bbb"/>
<rect x="448.4" y="367.8" width="0.8" height="26.6" fill="#aaa"/>
<rect x="451.3" y="367.8" width="0.8" height="26.6" fill="#888"/>
<rect x="455.2" y="367.8" width="0.9" height="26.6" fill="#333"/>
<rect x="458.1" y="367.8" width="0.8" height="26.6" fill="#999"/>
<rect x="460.4" y="367.8" width="1.0" height="26.6" fill="#333"/>
<rect x="463.8" y="367.8" width="0.8" height="26.6" fill="#aaa"/>
<rect x="467.7" y="367.8" width="0.8" height="26.6" fill="#888"/>
<rect x="470.6" y="367.8" width="0.8" height="26.6" fill="#888"/>
<rect x="473.4" y="367.8" width="0.8" height="26.6" fill="#999"/>
<rect x="477.3" y="367.8" width="0.8" height="26.6" fill="#aaa"/>
<rect x="481.1" y="367.8" width="0.8" height="26.6" fill="#aaa"/>
<rect x="485" y="367.8" width="0.8" height="26.6" fill="#999"/>
<rect x="487.9" y="367.8" width="0.8" height="26.6" fill="#888"/>
<rect x="490.8" y="367.8" width="0.8" height="26.6" fill="#aaa"/>
<rect x="493.6" y="367.8" width="0.8" height="26.6" fill="#999"/>
<rect x="497.5" y="367.8" width="0.8" height="26.6" fill="#bbb"/>
<rect x="501.5" y="367.8" width="0.8" height="26.6" fill="#999"/>
<line x1="349" y1="394.59999999999997" x2="503" y2="394.59999999999997" stroke="#444" stroke-width="0.6"/>
<rect x="349.3" y="395" width="153.6" height="8.9" fill="url(#grad)"/>
<rect x="349.1" y="288.7" width="154.3" height="115.6" fill="none" stroke="#222" stroke-width="1.1"/>
<line x1="345.9" y1="366.8" x2="349.1" y2="366.8" stroke="#333" stroke-width="1"/>
<text x="342.5" y="369.8" font-size="8.6" fill="#333" stroke="#333" stroke-width="0.15" text-anchor="end" textLength="11.2" lengthAdjust="spacingAndGlyphs" style="">0.0</text>
<line x1="345.9" y1="354.63" x2="349.1" y2="354.63" stroke="#333" stroke-width="1"/>
<text x="342.5" y="357.63" font-size="8.6" fill="#333" stroke="#333" stroke-width="0.15" text-anchor="end" textLength="11.2" lengthAdjust="spacingAndGlyphs" style="">0.1</text>
<line x1="345.9" y1="342.46000000000004" x2="349.1" y2="342.46000000000004" stroke="#333" stroke-width="1"/>
<text x="342.5" y="345.46000000000004" font-size="8.6" fill="#333" stroke="#333" stroke-width="0.15" text-anchor="end" textLength="11.2" lengthAdjust="spacingAndGlyphs" style="">0.2</text>
<line x1="345.9" y1="330.29" x2="349.1" y2="330.29" stroke="#333" stroke-width="1"/>
<text x="342.5" y="333.29" font-size="8.6" fill="#333" stroke="#333" stroke-width="0.15" text-anchor="end" textLength="11.2" lengthAdjust="spacingAndGlyphs" style="">0.3</text>
<line x1="345.9" y1="318.12" x2="349.1" y2="318.12" stroke="#333" stroke-width="1"/>
<text x="342.5" y="321.12" font-size="8.6" fill="#333" stroke="#333" stroke-width="0.15" text-anchor="end" textLength="11.2" lengthAdjust="spacingAndGlyphs" style="">0.4</text>
<line x1="345.9" y1="305.95" x2="349.1" y2="305.95" stroke="#333" stroke-width="1"/>
<text x="342.5" y="308.95" font-size="8.6" fill="#333" stroke="#333" stroke-width="0.15" text-anchor="end" textLength="11.2" lengthAdjust="spacingAndGlyphs" style="">0.5</text>
<line x1="345.9" y1="293.78000000000003" x2="349.1" y2="293.78000000000003" stroke="#333" stroke-width="1"/>
<text x="342.5" y="296.78000000000003" font-size="8.6" fill="#333" stroke="#333" stroke-width="0.15" text-anchor="end" textLength="11.2" lengthAdjust="spacingAndGlyphs" style="">0.6</text>
<text x="325.5" y="330.9" font-size="9.8" fill="#333" stroke="#333" stroke-width="0.15" textLength="7.1" lengthAdjust="spacingAndGlyphs" transform="rotate(-90 325.5 330.9)" style="">ES</text>
<line x1="349.6" y1="366.8" x2="502.6" y2="366.8" stroke="#999" stroke-width="0.6" stroke-dasharray="1.2,0.9"/>
<polyline points="349.2,366.8 350.4,352.0 351.7,339.4 353.2,331.0 354.7,324.9 357.1,318.9 358.9,310.4 360.0,306.5 361.3,304.3 363.1,301.3 366.2,298.9 368.5,297.8 370.4,296.5 374.0,294.7 377.0,292.3 379.0,292.0 381.3,291.7 384.9,291.0 387.3,292.3 391.0,294.3 395.0,296.6 401.0,300.5 407.7,305.1 413.0,309.6 418.3,314.6 423.5,318.8 428.8,323.1 434.0,326.8 439.4,330.5 444.5,333.8 450.0,336.8 455.0,339.6 460.6,342.1 467.0,345.2 473.3,348.5 478.5,351.5 483.8,354.8 489.0,357.4 494.4,360.1 498.5,363.0 502.6,366.8" fill="none" stroke="#d63c4c" stroke-width="1.05" stroke-linejoin="round"/>
<text x="362.7" y="339.7" font-size="8.2" fill="#333" stroke="#333" stroke-width="0.08" textLength="22.5" lengthAdjust="spacingAndGlyphs" style=""><tspan font-style="italic">P</tspan> = .01</text>
<text x="362.7" y="350.0" font-size="8.2" fill="#333" stroke="#333" stroke-width="0.08" textLength="40" lengthAdjust="spacingAndGlyphs" style="">q = 0.0767</text>
<text x="362.7" y="360.3" font-size="8.2" fill="#333" stroke="#333" stroke-width="0.08" textLength="51" lengthAdjust="spacingAndGlyphs" style="">NES = 1.9164</text>
<text x="353.4" y="416.4" font-size="10" fill="#d84a60" stroke="#d84a60" stroke-width="0.15" textLength="50.6" lengthAdjust="spacingAndGlyphs" style=""><tspan font-style="italic">SOCS1</tspan> LoF</text>
<text x="443.6" y="416.4" font-size="10" fill="#44548e" stroke="#44548e" stroke-width="0.15" textLength="48.6" lengthAdjust="spacingAndGlyphs" style=""><tspan font-style="italic">SOCS1</tspan> WT</text>
<text x="425.9" y="437.4" font-size="10.2" fill="#333" stroke="#333" stroke-width="0.15" text-anchor="middle" textLength="64" lengthAdjust="spacingAndGlyphs" style="">IFN&#945; Response</text>
<rect x="349" y="522.2" width="2.4" height="26.6" fill="#333"/>
<rect x="351.5" y="522.2" width="1.5" height="26.6" fill="#bbb"/>
<rect x="353.5" y="522.2" width="1.0" height="26.6" fill="#777"/>
<rect x="355" y="522.2" width="1.8" height="26.6" fill="#444"/>
<rect x="357" y="522.2" width="1" height="26.6" fill="#aaa"/>
<rect x="358.3" y="522.2" width="4.7" height="26.6" fill="#555"/>
<rect x="360.2" y="522.2" width="0.8" height="26.6" fill="#999"/>
<rect x="363.5" y="522.2" width="0.8" height="26.6" fill="#bbb"/>
<rect x="364.5" y="522.2" width="2.3" height="26.6" fill="#777"/>
<rect x="367.5" y="522.2" width="1.8" height="26.6" fill="#ddd"/>
<rect x="369.5" y="522.2" width="2.3" height="26.6" fill="#444"/>
<rect x="372.5" y="522.2" width="1.0" height="26.6" fill="#ccc"/>
<rect x="373.7" y="522.2" width="3.1" height="26.6" fill="#666"/>
<rect x="378" y="522.2" width="0.8" height="26.6" fill="#bbb"/>
<rect x="380" y="522.2" width="0.7" height="26.6" fill="#bbb"/>
<rect x="381.4" y="522.2" width="3.1" height="26.6" fill="#888"/>
<rect x="386.5" y="522.2" width="0.9" height="26.6" fill="#333"/>
<rect x="392" y="522.2" width="3" height="26.6" fill="#999"/>
<rect x="397.7" y="522.2" width="0.8" height="26.6" fill="#888"/>
<rect x="400.8" y="522.2" width="0.7" height="26.6" fill="#ccc"/>
<rect x="404.2" y="522.2" width="0.9" height="26.6" fill="#444"/>
<rect x="406.5" y="522.2" width="0.8" height="26.6" fill="#888"/>
<rect x="409.8" y="522.2" width="0.7" height="26.6" fill="#ccc"/>
<rect x="414.2" y="522.2" width="0.8" height="26.6" fill="#999"/>
<rect x="416.5" y="522.2" width="0.8" height="26.6" fill="#888"/>
<rect x="419.5" y="522.2" width="0.8" height="26.6" fill="#999"/>
<rect x="422.3" y="522.2" width="0.7" height="26.6" fill="#bbb"/>
<rect x="428" y="522.2" width="1.5" height="26.6" fill="#444"/>
<rect x="432.4" y="522.2" width="0.8" height="26.6" fill="#999"/>
<rect x="434.7" y="522.2" width="0.8" height="26.6" fill="#aaa"/>
<rect x="443.4" y="522.2" width="0.8" height="26.6" fill="#888"/>
<rect x="447.7" y="522.2" width="1.5" height="26.6" fill="#777"/>
<rect x="452.1" y="522.2" width="0.8" height="26.6" fill="#999"/>
<rect x="455.5" y="522.2" width="2.5" height="26.6" fill="#888"/>
<rect x="460" y="522.2" width="0.8" height="26.6" fill="#aaa"/>
<rect x="464.2" y="522.2" width="3.2" height="26.6" fill="#777"/>
<rect x="479.7" y="522.2" width="0.8" height="26.6" fill="#888"/>
<rect x="486.3" y="522.2" width="1.0" height="26.6" fill="#777"/>
<rect x="497.8" y="522.2" width="0.8" height="26.6" fill="#999"/>
<rect x="501.7" y="522.2" width="0.8" height="26.6" fill="#aaa"/>
<line x1="349" y1="549.0" x2="503" y2="549.0" stroke="#444" stroke-width="0.6"/>
<rect x="349.3" y="549.4" width="153.6" height="8.9" fill="url(#grad)"/>
<rect x="349.1" y="443.1" width="154.3" height="115.6" fill="none" stroke="#222" stroke-width="1.1"/>
<line x1="345.9" y1="521.2" x2="349.1" y2="521.2" stroke="#333" stroke-width="1"/>
<text x="342.5" y="524.2" font-size="8.6" fill="#333" stroke="#333" stroke-width="0.15" text-anchor="end" textLength="11.2" lengthAdjust="spacingAndGlyphs" style="">0.0</text>
<line x1="345.9" y1="509.03000000000003" x2="349.1" y2="509.03000000000003" stroke="#333" stroke-width="1"/>
<text x="342.5" y="512.03" font-size="8.6" fill="#333" stroke="#333" stroke-width="0.15" text-anchor="end" textLength="11.2" lengthAdjust="spacingAndGlyphs" style="">0.1</text>
<line x1="345.9" y1="496.86000000000007" x2="349.1" y2="496.86000000000007" stroke="#333" stroke-width="1"/>
<text x="342.5" y="499.86000000000007" font-size="8.6" fill="#333" stroke="#333" stroke-width="0.15" text-anchor="end" textLength="11.2" lengthAdjust="spacingAndGlyphs" style="">0.2</text>
<line x1="345.9" y1="484.69000000000005" x2="349.1" y2="484.69000000000005" stroke="#333" stroke-width="1"/>
<text x="342.5" y="487.69000000000005" font-size="8.6" fill="#333" stroke="#333" stroke-width="0.15" text-anchor="end" textLength="11.2" lengthAdjust="spacingAndGlyphs" style="">0.3</text>
<line x1="345.9" y1="472.52000000000004" x2="349.1" y2="472.52000000000004" stroke="#333" stroke-width="1"/>
<text x="342.5" y="475.52000000000004" font-size="8.6" fill="#333" stroke="#333" stroke-width="0.15" text-anchor="end" textLength="11.2" lengthAdjust="spacingAndGlyphs" style="">0.4</text>
<line x1="345.9" y1="460.35" x2="349.1" y2="460.35" stroke="#333" stroke-width="1"/>
<text x="342.5" y="463.35" font-size="8.6" fill="#333" stroke="#333" stroke-width="0.15" text-anchor="end" textLength="11.2" lengthAdjust="spacingAndGlyphs" style="">0.5</text>
<line x1="345.9" y1="448.18000000000006" x2="349.1" y2="448.18000000000006" stroke="#333" stroke-width="1"/>
<text x="342.5" y="451.18000000000006" font-size="8.6" fill="#333" stroke="#333" stroke-width="0.15" text-anchor="end" textLength="11.2" lengthAdjust="spacingAndGlyphs" style="">0.6</text>
<text x="325.5" y="485.29999999999995" font-size="9.8" fill="#333" stroke="#333" stroke-width="0.15" textLength="7.1" lengthAdjust="spacingAndGlyphs" transform="rotate(-90 325.5 485.29999999999995)" style="">ES</text>
<line x1="349.6" y1="521.2" x2="502.6" y2="521.2" stroke="#999" stroke-width="0.6" stroke-dasharray="1.2,0.9"/>
<polyline points="349.3,521.2 349.6,517.0 350.4,507.7 351.7,495.6 352.6,491.5 353.5,488.4 354.7,481.1 356.5,478.7 358.3,470.2 360.1,463.0 362.5,458.1 365.0,453.3 367.4,450.9 370.4,448.5 373.4,448.7 374.6,449.4 376.0,447.2 377.6,446.0 381.3,447.3 387.3,450.3 393.4,453.9 400.0,458.1 405.6,462.2 410.9,466.5 416.2,470.7 421.5,474.5 426.7,478.1 432.0,481.5 437.3,484.8 442.6,488.4 447.9,491.8 453.2,494.6 458.5,497.1 462.2,499.2 465.9,501.3 469.0,501.8 475.4,505.6 479.7,508.3 483.9,510.9 488.1,513.0 494.4,516.2 498.3,518.8 502.6,521.2" fill="none" stroke="#d63c4c" stroke-width="1.05" stroke-linejoin="round"/>
<text x="362.7" y="494.1" font-size="8.2" fill="#333" stroke="#333" stroke-width="0.08" textLength="34.5" lengthAdjust="spacingAndGlyphs" style=""><tspan font-style="italic">P</tspan> = .0178</text>
<text x="362.7" y="504.40000000000003" font-size="8.2" fill="#333" stroke="#333" stroke-width="0.08" textLength="40" lengthAdjust="spacingAndGlyphs" style="">q = 0.0704</text>
<text x="362.7" y="514.7" font-size="8.2" fill="#333" stroke="#333" stroke-width="0.08" textLength="50.5" lengthAdjust="spacingAndGlyphs" style="">NES = 1.8560</text>
<text x="353.4" y="570.8" font-size="10" fill="#d84a60" stroke="#d84a60" stroke-width="0.15" textLength="50.6" lengthAdjust="spacingAndGlyphs" style=""><tspan font-style="italic">SOCS1</tspan> LoF</text>
<text x="443.6" y="570.8" font-size="10" fill="#44548e" stroke="#44548e" stroke-width="0.15" textLength="48.6" lengthAdjust="spacingAndGlyphs" style=""><tspan font-style="italic">SOCS1</tspan> WT</text>
<text x="7.2" y="435.7" font-size="12.5" fill="#111" style="font-weight:bold;">E</text>
<line x1="43.3" y1="443.5" x2="43.3" y2="529.3" stroke="#222" stroke-width="1.1"/>
<line x1="42.8" y1="528.8" x2="147.5" y2="528.8" stroke="#222" stroke-width="1.1"/>
<line x1="40.5" y1="528.8" x2="43.3" y2="528.8" stroke="#222" stroke-width="0.9"/>
<text x="38.9" y="531.9" font-size="8.8" fill="#333" stroke="#333" stroke-width="0.15" text-anchor="end" style="">0</text>
<line x1="40.5" y1="501.4" x2="43.3" y2="501.4" stroke="#222" stroke-width="0.9"/>
<text x="38.9" y="504.5" font-size="8.8" fill="#333" stroke="#333" stroke-width="0.15" text-anchor="end" style="">1</text>
<line x1="40.5" y1="473.99999999999994" x2="43.3" y2="473.99999999999994" stroke="#222" stroke-width="0.9"/>
<text x="38.9" y="477.09999999999997" font-size="8.8" fill="#333" stroke="#333" stroke-width="0.15" text-anchor="end" style="">2</text>
<line x1="40.5" y1="446.59999999999997" x2="43.3" y2="446.59999999999997" stroke="#222" stroke-width="0.9"/>
<text x="38.9" y="449.7" font-size="8.8" fill="#333" stroke="#333" stroke-width="0.15" text-anchor="end" style="">3</text>
<rect x="46.9" y="500.6" width="5.3" height="28.2" fill="#1d4f8a"/>
<circle cx="48.6" cy="501.4" r="1.5" fill="#111"/>
<circle cx="50.1" cy="500.9" r="1.5" fill="#111"/>
<circle cx="49.9" cy="500.6" r="1.5" fill="#111"/>
<circle cx="49.5" cy="501.4" r="1.5" fill="#111"/>
<rect x="54.9" y="500.9" width="5.3" height="27.9" fill="#c6062c"/>
<circle cx="56.8" cy="501.4" r="1.5" fill="#111"/>
<circle cx="58.4" cy="501.1" r="1.5" fill="#111"/>
<circle cx="58.4" cy="501.7" r="1.5" fill="#111"/>
<circle cx="57.6" cy="501.4" r="1.5" fill="#111"/>
<line x1="53.6" y1="528.8" x2="53.6" y2="531.3" stroke="#222" stroke-width="0.8"/>
<rect x="68.5" y="495.4" width="5.3" height="33.4" fill="#1d4f8a"/>
<line x1="71.10000000000001" y1="495.37199999999996" x2="71.10000000000001" y2="493.17999999999995" stroke="#222" stroke-width="0.7"/>
<line x1="69.7" y1="493.17999999999995" x2="72.50000000000001" y2="493.17999999999995" stroke="#222" stroke-width="0.7"/>
<circle cx="71.1" cy="498.1" r="1.5" fill="#111"/>
<circle cx="70.4" cy="496.5" r="1.5" fill="#111"/>
<circle cx="69.7" cy="494.5" r="1.5" fill="#111"/>
<circle cx="70.7" cy="493.2" r="1.5" fill="#111"/>
<circle cx="71.3" cy="491.0" r="1.5" fill="#111"/>
<circle cx="69.9" cy="495.9" r="1.5" fill="#111"/>
<rect x="76.5" y="497.8" width="5.3" height="31.0" fill="#c6062c"/>
<line x1="79.10000000000001" y1="497.83799999999997" x2="79.10000000000001" y2="495.91999999999996" stroke="#222" stroke-width="0.7"/>
<line x1="77.7" y1="495.91999999999996" x2="80.50000000000001" y2="495.91999999999996" stroke="#222" stroke-width="0.7"/>
<circle cx="79.9" cy="500.0" r="1.5" fill="#111"/>
<circle cx="78.4" cy="498.7" r="1.5" fill="#111"/>
<circle cx="78.4" cy="496.5" r="1.5" fill="#111"/>
<circle cx="77.8" cy="495.4" r="1.5" fill="#111"/>
<circle cx="80.5" cy="494.5" r="1.5" fill="#111"/>
<line x1="75.15" y1="528.8" x2="75.15" y2="531.3" stroke="#222" stroke-width="0.8"/>
<rect x="90.0" y="488.5" width="5.3" height="40.3" fill="#1d4f8a"/>
<line x1="92.65" y1="488.52199999999993" x2="92.65" y2="487.15199999999993" stroke="#222" stroke-width="0.7"/>
<line x1="91.25" y1="487.15199999999993" x2="94.05000000000001" y2="487.15199999999993" stroke="#222" stroke-width="0.7"/>
<circle cx="93.3" cy="490.4" r="1.5" fill="#111"/>
<circle cx="93.7" cy="489.1" r="1.5" fill="#111"/>
<circle cx="93.0" cy="487.7" r="1.5" fill="#111"/>
<circle cx="91.3" cy="487.2" r="1.5" fill="#111"/>
<circle cx="92.2" cy="486.3" r="1.5" fill="#111"/>
<circle cx="92.6" cy="488.2" r="1.5" fill="#111"/>
<rect x="98.0" y="491.8" width="5.3" height="37.0" fill="#c6062c"/>
<line x1="100.65" y1="491.80999999999995" x2="100.65" y2="489.06999999999994" stroke="#222" stroke-width="0.7"/>
<line x1="99.25" y1="489.06999999999994" x2="102.05000000000001" y2="489.06999999999994" stroke="#222" stroke-width="0.7"/>
<circle cx="99.6" cy="495.9" r="1.5" fill="#111"/>
<circle cx="101.9" cy="493.2" r="1.5" fill="#111"/>
<circle cx="100.3" cy="489.1" r="1.5" fill="#111"/>
<circle cx="99.7" cy="487.7" r="1.5" fill="#111"/>
<circle cx="101.5" cy="486.3" r="1.5" fill="#111"/>
<line x1="96.7" y1="528.8" x2="96.7" y2="531.3" stroke="#222" stroke-width="0.8"/>
<rect x="111.5" y="480.3" width="5.3" height="48.5" fill="#1d4f8a"/>
<line x1="114.2" y1="480.30199999999996" x2="114.2" y2="478.10999999999996" stroke="#222" stroke-width="0.7"/>
<line x1="112.8" y1="478.10999999999996" x2="115.60000000000001" y2="478.10999999999996" stroke="#222" stroke-width="0.7"/>
<circle cx="113.1" cy="486.3" r="1.5" fill="#111"/>
<circle cx="115.4" cy="483.6" r="1.5" fill="#111"/>
<circle cx="114.1" cy="480.8" r="1.5" fill="#111"/>
<circle cx="114.3" cy="478.1" r="1.5" fill="#111"/>
<circle cx="113.8" cy="476.7" r="1.5" fill="#111"/>
<circle cx="114.2" cy="482.2" r="1.5" fill="#111"/>
<rect x="119.5" y="486.3" width="5.3" height="42.5" fill="#c6062c"/>
<line x1="122.2" y1="486.3299999999999" x2="122.2" y2="480.02799999999996" stroke="#222" stroke-width="0.7"/>
<line x1="120.8" y1="480.02799999999996" x2="123.60000000000001" y2="480.02799999999996" stroke="#222" stroke-width="0.7"/>
<circle cx="121.3" cy="495.9" r="1.5" fill="#111"/>
<circle cx="120.9" cy="491.8" r="1.5" fill="#111"/>
<circle cx="123.2" cy="487.7" r="1.5" fill="#111"/>
<circle cx="121.5" cy="479.5" r="1.5" fill="#111"/>
<circle cx="123.0" cy="479.5" r="1.5" fill="#111"/>
<line x1="118.25" y1="528.8" x2="118.25" y2="531.3" stroke="#222" stroke-width="0.8"/>
<rect x="133.1" y="480.6" width="5.3" height="48.2" fill="#1d4f8a"/>
<line x1="135.75000000000003" y1="480.57599999999996" x2="135.75000000000003" y2="478.10999999999996" stroke="#222" stroke-width="0.7"/>
<line x1="134.35000000000002" y1="478.10999999999996" x2="137.15000000000003" y2="478.10999999999996" stroke="#222" stroke-width="0.7"/>
<circle cx="134.9" cy="485.0" r="1.5" fill="#111"/>
<circle cx="137.1" cy="482.2" r="1.5" fill="#111"/>
<circle cx="136.9" cy="479.5" r="1.5" fill="#111"/>
<circle cx="136.5" cy="478.1" r="1.5" fill="#111"/>
<circle cx="136.5" cy="476.7" r="1.5" fill="#111"/>
<circle cx="136.0" cy="480.8" r="1.5" fill="#111"/>
<rect x="141.1" y="483.9" width="5.3" height="44.9" fill="#c6062c"/>
<line x1="143.75000000000003" y1="483.864" x2="143.75000000000003" y2="480.02799999999996" stroke="#222" stroke-width="0.7"/>
<line x1="142.35000000000002" y1="480.02799999999996" x2="145.15000000000003" y2="480.02799999999996" stroke="#222" stroke-width="0.7"/>
<circle cx="144.4" cy="493.2" r="1.5" fill="#111"/>
<circle cx="142.7" cy="489.1" r="1.5" fill="#111"/>
<circle cx="143.7" cy="485.0" r="1.5" fill="#111"/>
<circle cx="144.7" cy="479.5" r="1.5" fill="#111"/>
<circle cx="142.9" cy="476.7" r="1.5" fill="#111"/>
<circle cx="144.9" cy="474.0" r="1.5" fill="#111"/>
<line x1="139.8" y1="528.8" x2="139.8" y2="531.3" stroke="#222" stroke-width="0.8"/>
<text x="53.6" y="542.0999999999999" font-size="8.8" fill="#333" stroke="#333" stroke-width="0.15" text-anchor="middle" style="">0</text>
<text x="75.15" y="542.0999999999999" font-size="8.8" fill="#333" stroke="#333" stroke-width="0.15" text-anchor="middle" style="">0.1</text>
<text x="96.7" y="542.0999999999999" font-size="8.8" fill="#333" stroke="#333" stroke-width="0.15" text-anchor="middle" style="">1</text>
<text x="118.25" y="542.0999999999999" font-size="8.8" fill="#333" stroke="#333" stroke-width="0.15" text-anchor="middle" style="">10</text>
<text x="139.8" y="542.0999999999999" font-size="8.8" fill="#333" stroke="#333" stroke-width="0.15" text-anchor="middle" style="">100</text>
<text x="97.0" y="555.0" font-size="9.4" fill="#333" stroke="#333" stroke-width="0.15" text-anchor="middle" textLength="44.8" lengthAdjust="spacingAndGlyphs" style="">IFN&#947; (ng/mL)</text>
<text x="96.3" y="436.3" font-size="10.2" fill="#333" stroke="#333" stroke-width="0.15" text-anchor="middle" textLength="18.8" lengthAdjust="spacingAndGlyphs" style="">H-2<tspan dy="-3.4" font-size="6.2">b</tspan></text>
<line x1="195.5" y1="443.5" x2="195.5" y2="529.3" stroke="#222" stroke-width="1.1"/>
<line x1="195.0" y1="528.8" x2="301.5" y2="528.8" stroke="#222" stroke-width="1.1"/>
<line x1="192.7" y1="528.8" x2="195.5" y2="528.8" stroke="#222" stroke-width="0.9"/>
<text x="191.1" y="531.9" font-size="8.8" fill="#333" stroke="#333" stroke-width="0.15" text-anchor="end" style="">0</text>
<line x1="192.7" y1="508.29999999999995" x2="195.5" y2="508.29999999999995" stroke="#222" stroke-width="0.9"/>
<text x="191.1" y="511.4" font-size="8.8" fill="#333" stroke="#333" stroke-width="0.15" text-anchor="end" style="">1</text>
<line x1="192.7" y1="487.79999999999995" x2="195.5" y2="487.79999999999995" stroke="#222" stroke-width="0.9"/>
<text x="191.1" y="490.9" font-size="8.8" fill="#333" stroke="#333" stroke-width="0.15" text-anchor="end" style="">2</text>
<line x1="192.7" y1="467.29999999999995" x2="195.5" y2="467.29999999999995" stroke="#222" stroke-width="0.9"/>
<text x="191.1" y="470.4" font-size="8.8" fill="#333" stroke="#333" stroke-width="0.15" text-anchor="end" style="">3</text>
<line x1="192.7" y1="446.79999999999995" x2="195.5" y2="446.79999999999995" stroke="#222" stroke-width="0.9"/>
<text x="191.1" y="449.9" font-size="8.8" fill="#333" stroke="#333" stroke-width="0.15" text-anchor="end" style="">4</text>
<rect x="198.3" y="508.7" width="5.3" height="20.1" fill="#1d4f8a"/>
<rect x="206.3" y="507.5" width="5.3" height="21.3" fill="#c6062c"/>
<circle cx="209.1" cy="507.7" r="1.5" fill="#111"/>
<circle cx="209.3" cy="507.5" r="1.5" fill="#111"/>
<line x1="205.0" y1="528.8" x2="205.0" y2="531.3" stroke="#222" stroke-width="0.8"/>
<rect x="219.9" y="511.0" width="5.3" height="17.8" fill="#1d4f8a"/>
<line x1="222.50000000000003" y1="510.965" x2="222.50000000000003" y2="507.68499999999995" stroke="#222" stroke-width="0.7"/>
<line x1="221.10000000000002" y1="507.68499999999995" x2="223.90000000000003" y2="507.68499999999995" stroke="#222" stroke-width="0.7"/>
<rect x="227.9" y="505.8" width="5.3" height="23.0" fill="#c6062c"/>
<line x1="230.50000000000003" y1="505.84" x2="230.50000000000003" y2="504.19999999999993" stroke="#222" stroke-width="0.7"/>
<line x1="229.10000000000002" y1="504.19999999999993" x2="231.90000000000003" y2="504.19999999999993" stroke="#222" stroke-width="0.7"/>
<circle cx="231.4" cy="508.3" r="1.5" fill="#111"/>
<circle cx="229.9" cy="506.2" r="1.5" fill="#111"/>
<circle cx="230.9" cy="504.2" r="1.5" fill="#111"/>
<circle cx="231.6" cy="503.2" r="1.5" fill="#111"/>
<circle cx="231.6" cy="502.1" r="1.5" fill="#111"/>
<line x1="226.55" y1="528.8" x2="226.55" y2="531.3" stroke="#222" stroke-width="0.8"/>
<rect x="241.4" y="511.8" width="5.3" height="17.0" fill="#1d4f8a"/>
<line x1="244.05" y1="511.78499999999997" x2="244.05" y2="508.29999999999995" stroke="#222" stroke-width="0.7"/>
<line x1="242.65" y1="508.29999999999995" x2="245.45000000000002" y2="508.29999999999995" stroke="#222" stroke-width="0.7"/>
<rect x="249.4" y="501.7" width="5.3" height="27.1" fill="#c6062c"/>
<line x1="252.05" y1="501.73999999999995" x2="252.05" y2="499.07499999999993" stroke="#222" stroke-width="0.7"/>
<line x1="250.65" y1="499.07499999999993" x2="253.45000000000002" y2="499.07499999999993" stroke="#222" stroke-width="0.7"/>
<circle cx="251.2" cy="504.2" r="1.5" fill="#111"/>
<circle cx="252.5" cy="502.1" r="1.5" fill="#111"/>
<circle cx="252.4" cy="499.1" r="1.5" fill="#111"/>
<circle cx="252.1" cy="497.0" r="1.5" fill="#111"/>
<circle cx="253.4" cy="496.0" r="1.5" fill="#111"/>
<circle cx="252.1" cy="496.4" r="1.5" fill="#111"/>
<line x1="248.1" y1="528.8" x2="248.1" y2="531.3" stroke="#222" stroke-width="0.8"/>
<rect x="262.9" y="506.9" width="5.3" height="21.9" fill="#1d4f8a"/>
<line x1="265.59999999999997" y1="506.86499999999995" x2="265.59999999999997" y2="503.78999999999996" stroke="#222" stroke-width="0.7"/>
<line x1="264.2" y1="503.78999999999996" x2="266.99999999999994" y2="503.78999999999996" stroke="#222" stroke-width="0.7"/>
<rect x="270.9" y="493.7" width="5.3" height="35.1" fill="#c6062c"/>
<line x1="273.59999999999997" y1="493.74499999999995" x2="273.59999999999997" y2="487.79999999999995" stroke="#222" stroke-width="0.7"/>
<line x1="272.2" y1="487.79999999999995" x2="274.99999999999994" y2="487.79999999999995" stroke="#222" stroke-width="0.7"/>
<circle cx="273.4" cy="500.1" r="1.5" fill="#111"/>
<circle cx="274.8" cy="497.0" r="1.5" fill="#111"/>
<circle cx="274.0" cy="493.9" r="1.5" fill="#111"/>
<circle cx="273.0" cy="491.9" r="1.5" fill="#111"/>
<circle cx="273.1" cy="480.6" r="1.5" fill="#111"/>
<line x1="269.65" y1="528.8" x2="269.65" y2="531.3" stroke="#222" stroke-width="0.8"/>
<rect x="284.5" y="506.9" width="5.3" height="21.9" fill="#1d4f8a"/>
<line x1="287.15" y1="506.86499999999995" x2="287.15" y2="499.68999999999994" stroke="#222" stroke-width="0.7"/>
<line x1="285.75" y1="499.68999999999994" x2="288.54999999999995" y2="499.68999999999994" stroke="#222" stroke-width="0.7"/>
<rect x="292.5" y="484.9" width="5.3" height="43.9" fill="#c6062c"/>
<line x1="295.15" y1="484.92999999999995" x2="295.15" y2="477.54999999999995" stroke="#222" stroke-width="0.7"/>
<line x1="293.75" y1="477.54999999999995" x2="296.54999999999995" y2="477.54999999999995" stroke="#222" stroke-width="0.7"/>
<circle cx="295.1" cy="496.0" r="1.5" fill="#111"/>
<circle cx="293.9" cy="489.8" r="1.5" fill="#111"/>
<circle cx="295.5" cy="483.7" r="1.5" fill="#111"/>
<circle cx="295.8" cy="479.0" r="1.5" fill="#111"/>
<circle cx="294.9" cy="473.7" r="1.5" fill="#111"/>
<circle cx="296.1" cy="468.1" r="1.5" fill="#111"/>
<line x1="291.2" y1="528.8" x2="291.2" y2="531.3" stroke="#222" stroke-width="0.8"/>
<text x="205.0" y="542.0999999999999" font-size="8.8" fill="#333" stroke="#333" stroke-width="0.15" text-anchor="middle" style="">0</text>
<text x="226.55" y="542.0999999999999" font-size="8.8" fill="#333" stroke="#333" stroke-width="0.15" text-anchor="middle" style="">0.1</text>
<text x="248.1" y="542.0999999999999" font-size="8.8" fill="#333" stroke="#333" stroke-width="0.15" text-anchor="middle" style="">1</text>
<text x="269.65" y="542.0999999999999" font-size="8.8" fill="#333" stroke="#333" stroke-width="0.15" text-anchor="middle" style="">10</text>
<text x="291.2" y="542.0999999999999" font-size="8.8" fill="#333" stroke="#333" stroke-width="0.15" text-anchor="middle" style="">100</text>
<text x="248.4" y="555.0" font-size="9.4" fill="#333" stroke="#333" stroke-width="0.15" text-anchor="middle" textLength="44.8" lengthAdjust="spacingAndGlyphs" style="">IFN&#947; (ng/mL)</text>
<text x="248.4" y="436.4" font-size="10.2" fill="#333" stroke="#333" stroke-width="0.15" text-anchor="middle" textLength="35.2" lengthAdjust="spacingAndGlyphs" style="">I-A<tspan dy="-3.2" font-size="6">b</tspan><tspan dy="3.2">/I-E</tspan><tspan dy="-3.2" font-size="6">b</tspan></text>
<line x1="43.3" y1="581" x2="43.3" y2="667.0" stroke="#222" stroke-width="1.1"/>
<line x1="42.8" y1="666.5" x2="148.5" y2="666.5" stroke="#222" stroke-width="1.1"/>
<line x1="40.5" y1="666.5" x2="43.3" y2="666.5" stroke="#222" stroke-width="0.9"/>
<text x="38.9" y="669.6" font-size="8.8" fill="#333" stroke="#333" stroke-width="0.15" text-anchor="end" style="">0</text>
<line x1="40.5" y1="639.14" x2="43.3" y2="639.14" stroke="#222" stroke-width="0.9"/>
<text x="38.9" y="642.24" font-size="8.8" fill="#333" stroke="#333" stroke-width="0.15" text-anchor="end" style="">2</text>
<line x1="40.5" y1="611.78" x2="43.3" y2="611.78" stroke="#222" stroke-width="0.9"/>
<text x="38.9" y="614.88" font-size="8.8" fill="#333" stroke="#333" stroke-width="0.15" text-anchor="end" style="">4</text>
<line x1="40.5" y1="584.42" x2="43.3" y2="584.42" stroke="#222" stroke-width="0.9"/>
<text x="38.9" y="587.52" font-size="8.8" fill="#333" stroke="#333" stroke-width="0.15" text-anchor="end" style="">6</text>
<rect x="46.9" y="651.6" width="5.3" height="14.9" fill="#1d4f8a"/>
<circle cx="48.9" cy="652.1" r="1.5" fill="#111"/>
<circle cx="49.5" cy="651.7" r="1.5" fill="#111"/>
<rect x="54.9" y="652.0" width="5.3" height="14.5" fill="#c6062c"/>
<circle cx="56.4" cy="652.8" r="1.5" fill="#111"/>
<circle cx="57.1" cy="652.1" r="1.5" fill="#111"/>
<line x1="53.6" y1="666.5" x2="53.6" y2="669.0" stroke="#222" stroke-width="0.8"/>
<rect x="68.5" y="653.1" width="5.3" height="13.4" fill="#1d4f8a"/>
<line x1="71.10000000000001" y1="653.0936" x2="71.10000000000001" y2="651.452" stroke="#222" stroke-width="0.7"/>
<line x1="69.7" y1="651.452" x2="72.50000000000001" y2="651.452" stroke="#222" stroke-width="0.7"/>
<circle cx="69.9" cy="654.9" r="1.5" fill="#111"/>
<circle cx="69.7" cy="653.5" r="1.5" fill="#111"/>
<circle cx="70.5" cy="652.1" r="1.5" fill="#111"/>
<circle cx="70.0" cy="650.8" r="1.5" fill="#111"/>
<rect x="76.5" y="649.7" width="5.3" height="16.8" fill="#c6062c"/>
<line x1="79.10000000000001" y1="649.6736" x2="79.10000000000001" y2="648.716" stroke="#222" stroke-width="0.7"/>
<line x1="77.7" y1="648.716" x2="80.50000000000001" y2="648.716" stroke="#222" stroke-width="0.7"/>
<circle cx="78.6" cy="651.5" r="1.5" fill="#111"/>
<circle cx="79.8" cy="650.1" r="1.5" fill="#111"/>
<circle cx="77.8" cy="649.4" r="1.5" fill="#111"/>
<circle cx="79.4" cy="648.7" r="1.5" fill="#111"/>
<line x1="75.15" y1="666.5" x2="75.15" y2="669.0" stroke="#222" stroke-width="0.8"/>
<rect x="90.0" y="652.0" width="5.3" height="14.5" fill="#1d4f8a"/>
<line x1="92.65" y1="651.9992" x2="92.65" y2="647.348" stroke="#222" stroke-width="0.7"/>
<line x1="91.25" y1="647.348" x2="94.05000000000001" y2="647.348" stroke="#222" stroke-width="0.7"/>
<circle cx="91.6" cy="653.1" r="1.5" fill="#111"/>
<circle cx="93.5" cy="649.7" r="1.5" fill="#111"/>
<circle cx="93.3" cy="646.3" r="1.5" fill="#111"/>
<circle cx="91.8" cy="655.6" r="1.5" fill="#111"/>
<rect x="98.0" y="644.3" width="5.3" height="22.2" fill="#c6062c"/>
<line x1="100.65" y1="644.3384" x2="100.65" y2="638.0456" stroke="#222" stroke-width="0.7"/>
<line x1="99.25" y1="638.0456" x2="102.05000000000001" y2="638.0456" stroke="#222" stroke-width="0.7"/>
<circle cx="101.6" cy="648.7" r="1.5" fill="#111"/>
<circle cx="101.3" cy="643.8" r="1.5" fill="#111"/>
<circle cx="99.5" cy="639.1" r="1.5" fill="#111"/>
<circle cx="100.4" cy="632.3" r="1.5" fill="#111"/>
<line x1="96.7" y1="666.5" x2="96.7" y2="669.0" stroke="#222" stroke-width="0.8"/>
<rect x="111.5" y="645.0" width="5.3" height="21.5" fill="#1d4f8a"/>
<line x1="114.2" y1="645.0224" x2="114.2" y2="637.772" stroke="#222" stroke-width="0.7"/>
<line x1="112.8" y1="637.772" x2="115.60000000000001" y2="637.772" stroke="#222" stroke-width="0.7"/>
<circle cx="114.8" cy="648.7" r="1.5" fill="#111"/>
<circle cx="115.4" cy="643.8" r="1.5" fill="#111"/>
<circle cx="113.3" cy="639.1" r="1.5" fill="#111"/>
<circle cx="113.5" cy="637.0" r="1.5" fill="#111"/>
<circle cx="115.0" cy="651.5" r="1.5" fill="#111"/>
<rect x="119.5" y="631.2" width="5.3" height="35.3" fill="#c6062c"/>
<line x1="122.2" y1="631.2056" x2="122.2" y2="618.8936" stroke="#222" stroke-width="0.7"/>
<line x1="120.8" y1="618.8936" x2="123.60000000000001" y2="618.8936" stroke="#222" stroke-width="0.7"/>
<circle cx="123.5" cy="639.1" r="1.5" fill="#111"/>
<circle cx="121.1" cy="633.7" r="1.5" fill="#111"/>
<circle cx="121.1" cy="627.6" r="1.5" fill="#111"/>
<circle cx="122.9" cy="607.9" r="1.5" fill="#111"/>
<line x1="118.25" y1="666.5" x2="118.25" y2="669.0" stroke="#222" stroke-width="0.8"/>
<rect x="133.1" y="643.9" width="5.3" height="22.6" fill="#1d4f8a"/>
<line x1="135.75000000000003" y1="643.928" x2="135.75000000000003" y2="635.0360000000001" stroke="#222" stroke-width="0.7"/>
<line x1="134.35000000000002" y1="635.0360000000001" x2="137.15000000000003" y2="635.0360000000001" stroke="#222" stroke-width="0.7"/>
<circle cx="135.2" cy="652.0" r="1.5" fill="#111"/>
<circle cx="135.4" cy="646.3" r="1.5" fill="#111"/>
<circle cx="136.8" cy="638.0" r="1.5" fill="#111"/>
<circle cx="136.4" cy="635.0" r="1.5" fill="#111"/>
<rect x="141.1" y="619.6" width="5.3" height="46.9" fill="#c6062c"/>
<line x1="143.75000000000003" y1="619.5776" x2="143.75000000000003" y2="599.468" stroke="#222" stroke-width="0.7"/>
<line x1="142.35000000000002" y1="599.468" x2="145.15000000000003" y2="599.468" stroke="#222" stroke-width="0.7"/>
<circle cx="144.2" cy="638.0" r="1.5" fill="#111"/>
<circle cx="144.8" cy="632.3" r="1.5" fill="#111"/>
<circle cx="144.4" cy="612.7" r="1.5" fill="#111"/>
<circle cx="144.6" cy="606.9" r="1.5" fill="#111"/>
<circle cx="144.2" cy="588.5" r="1.5" fill="#111"/>
<line x1="139.8" y1="666.5" x2="139.8" y2="669.0" stroke="#222" stroke-width="0.8"/>
<text x="53.6" y="679.8" font-size="8.8" fill="#333" stroke="#333" stroke-width="0.15" text-anchor="middle" style="">0</text>
<text x="75.15" y="679.8" font-size="8.8" fill="#333" stroke="#333" stroke-width="0.15" text-anchor="middle" style="">0.1</text>
<text x="96.7" y="679.8" font-size="8.8" fill="#333" stroke="#333" stroke-width="0.15" text-anchor="middle" style="">1</text>
<text x="118.25" y="679.8" font-size="8.8" fill="#333" stroke="#333" stroke-width="0.15" text-anchor="middle" style="">10</text>
<text x="139.8" y="679.8" font-size="8.8" fill="#333" stroke="#333" stroke-width="0.15" text-anchor="middle" style="">100</text>
<text x="97.0" y="692.7" font-size="9.4" fill="#333" stroke="#333" stroke-width="0.15" text-anchor="middle" textLength="44.8" lengthAdjust="spacingAndGlyphs" style="">IFN&#947; (ng/mL)</text>
<text x="95.7" y="575.6" font-size="10.2" fill="#333" stroke="#333" stroke-width="0.15" text-anchor="middle" textLength="25" lengthAdjust="spacingAndGlyphs" style="">PD-L1</text>
<text x="16.1" y="486.4" font-size="9.6" fill="#333" stroke="#333" stroke-width="0.15" text-anchor="middle" textLength="55.8" lengthAdjust="spacingAndGlyphs" transform="rotate(-90 16.1 486.4)" style="">MFI fold change</text>
<text x="27.9" y="486.4" font-size="9.6" fill="#333" stroke="#333" stroke-width="0.15" text-anchor="middle" textLength="89" lengthAdjust="spacingAndGlyphs" transform="rotate(-90 27.9 486.4)" style="">(relative to media control)</text>
<text x="167.4" y="486.4" font-size="9.6" fill="#333" stroke="#333" stroke-width="0.15" text-anchor="middle" textLength="55.8" lengthAdjust="spacingAndGlyphs" transform="rotate(-90 167.4 486.4)" style="">MFI fold change</text>
<text x="178.9" y="486.4" font-size="9.6" fill="#333" stroke="#333" stroke-width="0.15" text-anchor="middle" textLength="89" lengthAdjust="spacingAndGlyphs" transform="rotate(-90 178.9 486.4)" style="">(relative to media control)</text>
<text x="16" y="623.8" font-size="9.6" fill="#333" stroke="#333" stroke-width="0.15" text-anchor="middle" textLength="55.8" lengthAdjust="spacingAndGlyphs" transform="rotate(-90 16 623.8)" style="">MFI fold change</text>
<text x="27.8" y="623.8" font-size="9.6" fill="#333" stroke="#333" stroke-width="0.15" text-anchor="middle" textLength="89" lengthAdjust="spacingAndGlyphs" transform="rotate(-90 27.8 623.8)" style="">(relative to media control)</text>
<path d="M244.3 504.6 V463.4 H252.8 V495.4 M265.7 505 V463.4 H274.6 V480 M287.7 500 V463.4 H296.5 V466" fill="none" stroke="#666" stroke-width="0.8"/>
<circle cx="248.5" cy="459.7" r="1.0" fill="#111"/>
<circle cx="268.4" cy="459.7" r="1.0" fill="#111"/>
<circle cx="271.9" cy="459.7" r="1.0" fill="#111"/>
<circle cx="286.9" cy="459.7" r="1.0" fill="#111"/>
<circle cx="290.4" cy="459.7" r="1.0" fill="#111"/>
<circle cx="293.9" cy="459.7" r="1.0" fill="#111"/>
<circle cx="297.4" cy="459.7" r="1.0" fill="#111"/>
<path d="M135.9 634.6 V584.3 H144.1 V587" fill="none" stroke="#666" stroke-width="0.8"/>
<circle cx="134.8" cy="580.2" r="1.0" fill="#111"/>
<circle cx="138.2" cy="580.2" r="1.0" fill="#111"/>
<circle cx="141.8" cy="580.2" r="1.0" fill="#111"/>
<circle cx="145.2" cy="580.2" r="1.0" fill="#111"/>
<rect x="159" y="615.5" width="5.8" height="5.8" fill="#c6062c"/>
<rect x="159" y="629.3" width="5.8" height="5.6" fill="#1d4f8a"/>
<text x="168.2" y="620.9" font-size="8.8" fill="#333" stroke="#333" stroke-width="0.15" textLength="18.3" lengthAdjust="spacingAndGlyphs" style="font-style:italic;">Cd19</text>
<text x="186.9" y="617.9" font-size="4.2" fill="#333" stroke="#333" stroke-width="0.08" textLength="9.8" lengthAdjust="spacingAndGlyphs" style="font-style:italic;">Cre/+</text>
<text x="168.2" y="634.9" font-size="8.8" fill="#333" stroke="#333" stroke-width="0.15" textLength="18.3" lengthAdjust="spacingAndGlyphs" style="font-style:italic;">Cd19</text>
<text x="186.9" y="631.9" font-size="4.2" fill="#333" stroke="#333" stroke-width="0.08" textLength="9.8" lengthAdjust="spacingAndGlyphs" style="font-style:italic;">Cre/+</text>
<text x="200.8" y="620.9" font-size="8.8" fill="#333" stroke="#333" stroke-width="0.15" textLength="17.7" lengthAdjust="spacingAndGlyphs" style="font-style:italic;">Socs1</text>
<text x="219" y="617.9" font-size="4.2" fill="#333" stroke="#333" stroke-width="0.08" textLength="7" lengthAdjust="spacingAndGlyphs" style="font-style:italic;">fl/fl</text>
<rect x="0" y="0" width="520" height="1.1" fill="#606060"/><rect x="0" y="0" width="1.1" height="703" fill="#4a4a4a"/><rect x="518.9" y="0" width="1.1" height="703" fill="#383838"/><rect x="0" y="701.9" width="520" height="1.1" fill="#383838"/>
</svg>
</body></html>
